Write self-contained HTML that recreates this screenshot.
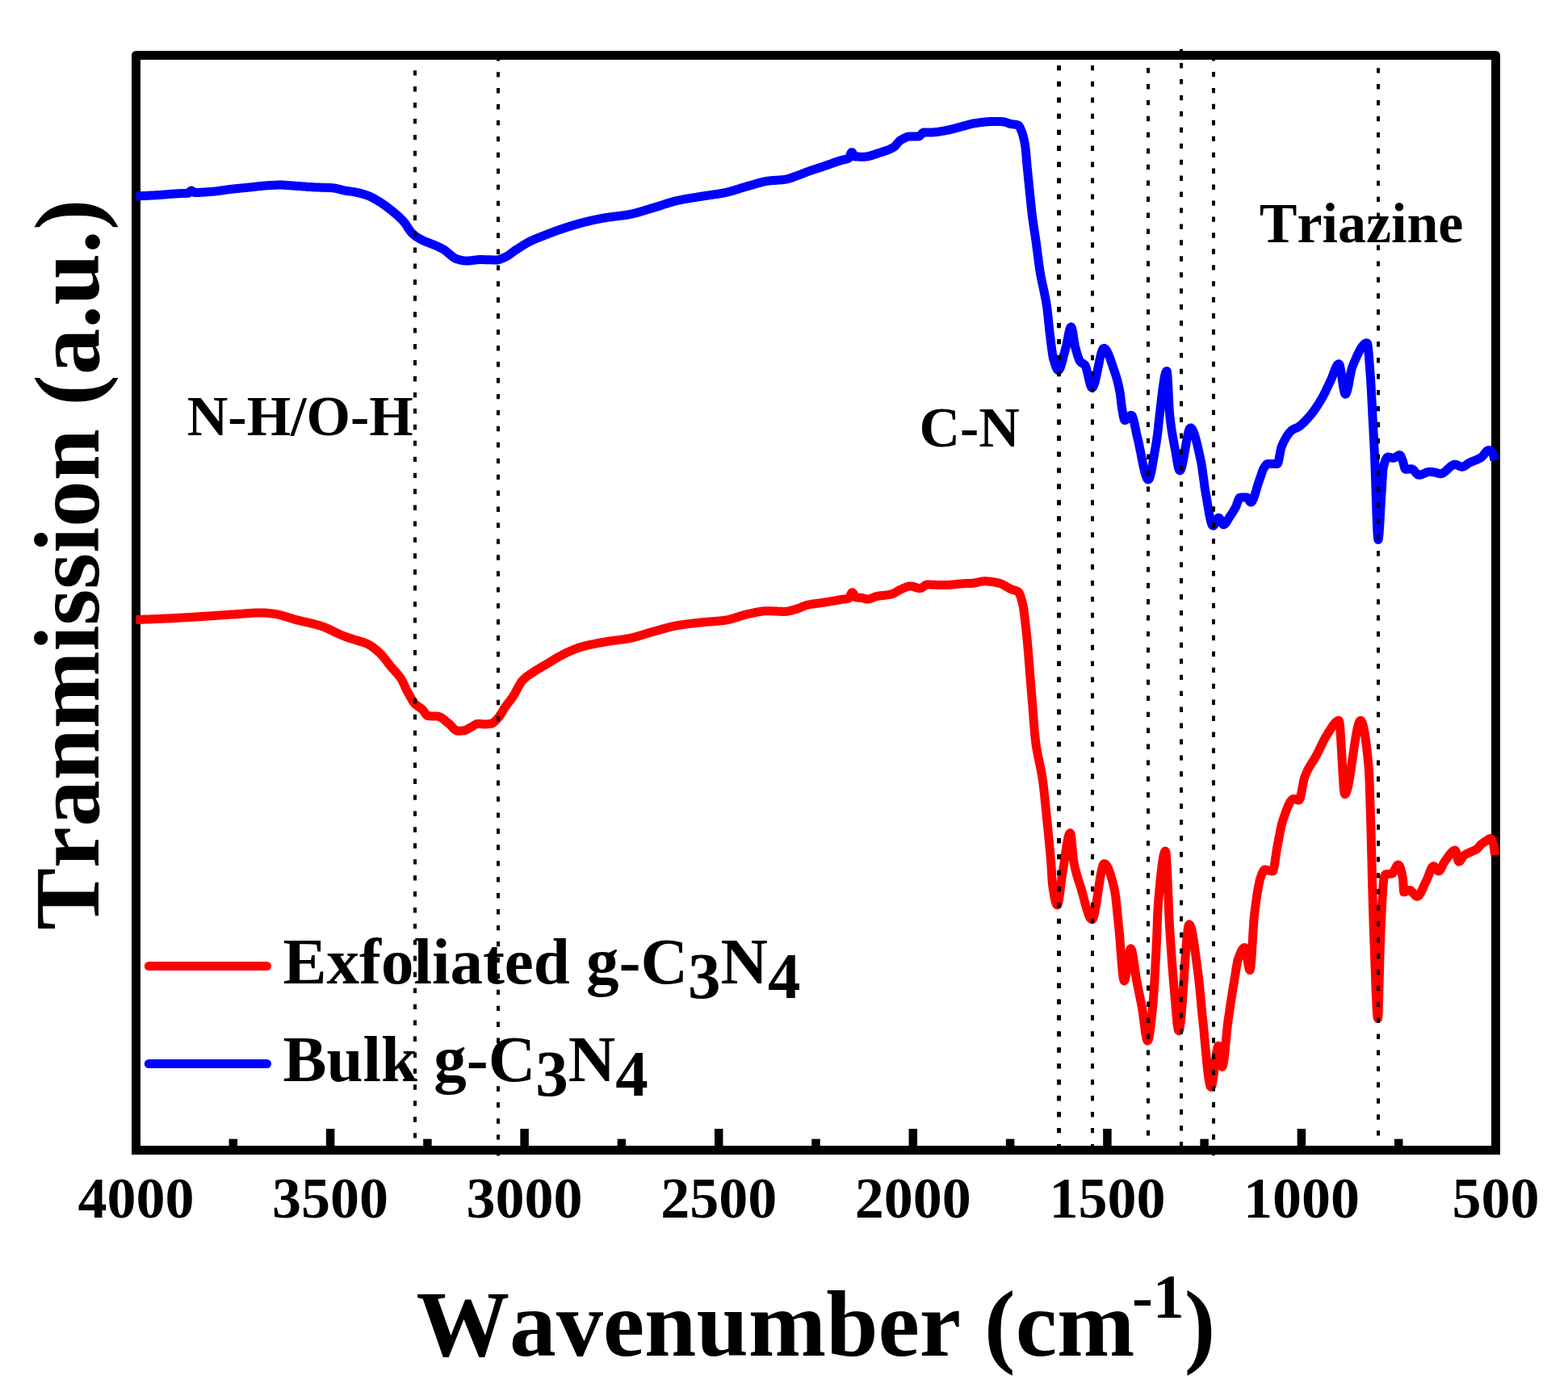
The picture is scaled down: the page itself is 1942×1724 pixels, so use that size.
<!DOCTYPE html>
<html><head><meta charset="utf-8"><style>
html,body{margin:0;padding:0;background:#fff;}
svg{display:block;}
text{font-family:"Liberation Serif","Times New Roman",serif;font-weight:bold;fill:#000;font-kerning:none;}
</style></head><body>
<svg width="1942" height="1724" viewBox="0 0 1942 1724">
<rect x="0" y="0" width="1942" height="1724" fill="#fff"/>
<path d="M168.5,1430 L168.5,68.5 L1852.5,68.5 L1852.5,1430" fill="none" stroke="#000" stroke-width="11" stroke-linejoin="round"/><path d="M163,1424.5 L1858,1424.5" fill="none" stroke="#000" stroke-width="11"/>
<g stroke="#000" stroke-width="10.5"><line x1="288.8" y1="1424" x2="288.8" y2="1410.6"/><line x1="409.1" y1="1424" x2="409.1" y2="1398.0"/><line x1="529.4" y1="1424" x2="529.4" y2="1410.6"/><line x1="649.6" y1="1424" x2="649.6" y2="1398.0"/><line x1="769.9" y1="1424" x2="769.9" y2="1410.6"/><line x1="890.2" y1="1424" x2="890.2" y2="1398.0"/><line x1="1010.5" y1="1424" x2="1010.5" y2="1410.6"/><line x1="1130.8" y1="1424" x2="1130.8" y2="1398.0"/><line x1="1251.1" y1="1424" x2="1251.1" y2="1410.6"/><line x1="1371.4" y1="1424" x2="1371.4" y2="1398.0"/><line x1="1491.6" y1="1424" x2="1491.6" y2="1410.6"/><line x1="1611.9" y1="1424" x2="1611.9" y2="1398.0"/><line x1="1732.2" y1="1424" x2="1732.2" y2="1410.6"/></g>
<g font-size="72" text-anchor="middle"><text x="168.5" y="1508">4000</text><text x="409.1" y="1508">3500</text><text x="649.6" y="1508">3000</text><text x="890.2" y="1508">2500</text><text x="1130.8" y="1508">2000</text><text x="1371.4" y="1508">1500</text><text x="1611.9" y="1508">1000</text><text x="1852.5" y="1508">500</text></g>
<text x="515.4" y="1679.3" font-size="115.7">Wavenumber (cm<tspan font-size="78" dx="-3.5" dy="-47">-1</tspan><tspan dy="47">)</tspan></text>
<text transform="translate(122,1151.7) rotate(-90)" font-size="115.1">Tranmission (a.u.)</text>
<text x="231.8" y="538.7" font-size="70">N-H/O-H</text>
<text x="1138.4" y="552.9" font-size="70">C-N</text>
<text x="1559.7" y="299.8" font-size="70">Triazine</text>
<line x1="184.4" y1="1196.5" x2="330.4" y2="1196.5" stroke="#f00" stroke-width="11.2" stroke-linecap="round"/>
<line x1="184.4" y1="1317.5" x2="330.4" y2="1317.5" stroke="#00f" stroke-width="11.2" stroke-linecap="round"/>
<text x="350.4" y="1218" font-size="81">Exfoliated g-C<tspan dy="17.7">3</tspan><tspan dy="-17.7">N</tspan><tspan dy="17.7">4</tspan></text>
<text x="350.4" y="1339" font-size="81">Bulk g-C<tspan dy="17.7">3</tspan><tspan dy="-17.7">N</tspan><tspan dy="17.7">4</tspan></text>
<g fill="none" stroke-width="11" stroke-linejoin="round" stroke-linecap="butt">
<polyline stroke="#00f" points="168.5,242.9 169.0,242.9 169.5,242.9 170.0,242.9 170.5,242.8 171.0,242.8 171.5,242.8 171.9,242.8 172.4,242.8 172.9,242.7 173.4,242.7 173.9,242.7 174.4,242.7 174.9,242.7 175.4,242.6 175.9,242.6 176.4,242.6 176.9,242.6 177.4,242.6 177.9,242.5 178.3,242.5 178.8,242.5 179.3,242.5 179.8,242.5 180.3,242.4 180.8,242.4 181.3,242.4 181.8,242.4 182.3,242.3 182.8,242.3 183.3,242.3 183.8,242.3 184.3,242.2 184.7,242.2 185.2,242.2 185.7,242.2 186.2,242.1 186.7,242.1 187.2,242.1 187.7,242.1 188.2,242.0 188.7,242.0 189.2,242.0 189.7,242.0 190.2,241.9 190.7,241.9 191.1,241.9 191.6,241.8 192.1,241.8 192.6,241.8 193.1,241.8 193.6,241.7 194.1,241.7 194.6,241.7 195.1,241.6 195.6,241.6 196.1,241.6 196.6,241.5 197.1,241.5 197.6,241.5 198.1,241.4 198.5,241.4 199.0,241.4 199.5,241.3 200.0,241.3 200.5,241.3 201.0,241.2 201.5,241.2 202.0,241.1 202.5,241.1 203.0,241.1 203.5,241.0 204.0,241.0 204.5,240.9 205.0,240.9 205.5,240.8 206.0,240.8 206.5,240.8 206.9,240.7 207.4,240.7 207.9,240.6 208.4,240.6 208.9,240.5 209.4,240.5 209.9,240.5 210.4,240.4 210.9,240.4 211.4,240.3 211.9,240.3 212.4,240.3 212.9,240.2 213.4,240.2 213.9,240.2 214.4,240.1 214.9,240.1 215.3,240.0 215.8,240.0 216.3,240.0 216.8,239.9 217.3,239.9 217.8,239.9 218.3,239.9 218.8,239.8 219.3,239.8 219.8,239.8 220.3,239.8 220.8,239.7 221.3,239.7 221.7,239.7 222.2,239.7 222.7,239.7 223.2,239.7 223.7,239.6 224.2,239.6 224.7,239.6 225.2,239.6 225.7,239.6 226.2,239.6 226.6,239.6 227.1,239.5 227.6,239.5 228.1,239.5 228.6,239.5 229.1,239.5 229.6,239.4 230.1,239.4 230.6,239.4 231.0,239.4 231.5,239.3 232.0,239.3 232.5,239.2 233.0,239.2 233.5,239.1 233.9,238.7 234.4,238.3 234.8,237.8 235.3,237.3 235.7,236.8 236.2,236.4 236.6,236.1 237.1,236.0 237.6,236.1 238.1,236.4 238.6,236.8 239.1,237.3 239.5,237.7 240.0,238.1 240.5,238.4 241.0,238.5 241.5,238.5 242.0,238.5 242.5,238.5 243.0,238.5 243.5,238.5 244.0,238.5 244.5,238.5 245.0,238.4 245.5,238.4 246.0,238.4 246.5,238.4 246.9,238.4 247.4,238.4 247.9,238.3 248.4,238.3 248.9,238.3 249.4,238.3 249.9,238.2 250.4,238.2 250.9,238.2 251.4,238.1 251.9,238.1 252.4,238.1 252.9,238.0 253.4,238.0 253.9,238.0 254.4,237.9 254.9,237.9 255.4,237.9 255.9,237.8 256.4,237.8 256.9,237.8 257.4,237.7 257.9,237.7 258.3,237.6 258.8,237.6 259.3,237.6 259.8,237.5 260.3,237.5 260.8,237.4 261.3,237.4 261.8,237.4 262.3,237.3 262.8,237.3 263.3,237.2 263.8,237.2 264.3,237.2 264.8,237.1 265.3,237.1 265.8,237.0 266.3,237.0 266.8,236.9 267.3,236.9 267.8,236.8 268.3,236.8 268.8,236.7 269.3,236.6 269.7,236.6 270.2,236.5 270.7,236.4 271.2,236.4 271.7,236.3 272.2,236.2 272.7,236.2 273.2,236.1 273.7,236.0 274.2,236.0 274.7,235.9 275.2,235.8 275.7,235.7 276.2,235.7 276.7,235.6 277.2,235.5 277.7,235.4 278.2,235.4 278.7,235.3 279.2,235.2 279.7,235.1 280.2,235.1 280.6,235.0 281.1,234.9 281.6,234.9 282.1,234.8 282.6,234.7 283.1,234.7 283.6,234.6 284.1,234.5 284.6,234.5 285.1,234.4 285.6,234.4 286.1,234.3 286.6,234.2 287.1,234.2 287.6,234.1 288.1,234.1 288.6,234.0 289.1,234.0 289.6,233.9 290.0,233.9 290.5,233.8 291.0,233.8 291.5,233.7 292.0,233.7 292.5,233.6 293.0,233.6 293.5,233.5 294.0,233.5 294.5,233.4 295.0,233.4 295.5,233.3 296.0,233.3 296.5,233.2 297.0,233.2 297.4,233.1 297.9,233.1 298.4,233.1 298.9,233.0 299.4,233.0 299.9,232.9 300.4,232.9 300.9,232.8 301.4,232.8 301.9,232.7 302.4,232.7 302.9,232.6 303.4,232.6 303.9,232.5 304.4,232.5 304.8,232.4 305.3,232.4 305.8,232.3 306.3,232.3 306.8,232.2 307.3,232.2 307.8,232.2 308.3,232.1 308.8,232.0 309.3,232.0 309.8,231.9 310.3,231.9 310.8,231.8 311.3,231.8 311.8,231.7 312.3,231.7 312.8,231.6 313.3,231.5 313.7,231.5 314.2,231.4 314.7,231.4 315.2,231.3 315.7,231.3 316.2,231.2 316.7,231.1 317.2,231.1 317.7,231.0 318.2,231.0 318.7,230.9 319.2,230.8 319.7,230.8 320.2,230.7 320.7,230.7 321.2,230.6 321.7,230.6 322.2,230.5 322.7,230.5 323.2,230.4 323.7,230.4 324.1,230.3 324.6,230.3 325.1,230.2 325.6,230.2 326.1,230.1 326.6,230.1 327.1,230.0 327.6,230.0 328.1,230.0 328.6,229.9 329.1,229.9 329.6,229.9 330.1,229.8 330.6,229.8 331.1,229.8 331.6,229.7 332.1,229.7 332.6,229.7 333.1,229.6 333.6,229.6 334.0,229.6 334.5,229.6 335.0,229.5 335.5,229.5 336.0,229.5 336.5,229.4 337.0,229.4 337.5,229.4 338.0,229.4 338.5,229.3 339.0,229.3 339.5,229.3 340.0,229.3 340.5,229.2 341.0,229.2 341.5,229.2 342.0,229.2 342.4,229.2 342.9,229.2 343.4,229.1 343.9,229.1 344.4,229.1 344.9,229.1 345.4,229.1 345.9,229.1 346.4,229.1 346.9,229.1 347.4,229.1 347.9,229.1 348.4,229.1 348.9,229.1 349.4,229.1 349.9,229.1 350.3,229.2 350.8,229.2 351.3,229.2 351.8,229.2 352.3,229.3 352.8,229.3 353.3,229.3 353.8,229.3 354.3,229.4 354.8,229.4 355.3,229.4 355.8,229.5 356.3,229.5 356.8,229.5 357.2,229.6 357.7,229.6 358.2,229.7 358.7,229.7 359.2,229.7 359.7,229.8 360.2,229.8 360.7,229.9 361.2,229.9 361.7,229.9 362.2,230.0 362.7,230.0 363.2,230.1 363.7,230.1 364.2,230.1 364.6,230.2 365.1,230.2 365.6,230.3 366.1,230.3 366.6,230.3 367.1,230.4 367.6,230.4 368.1,230.4 368.6,230.5 369.1,230.5 369.6,230.5 370.1,230.6 370.6,230.6 371.1,230.6 371.6,230.7 372.1,230.7 372.6,230.7 373.1,230.8 373.5,230.8 374.0,230.8 374.5,230.9 375.0,230.9 375.5,231.0 376.0,231.0 376.5,231.0 377.0,231.1 377.5,231.1 378.0,231.1 378.5,231.2 379.0,231.2 379.5,231.2 380.0,231.3 380.5,231.3 381.0,231.3 381.5,231.4 382.0,231.4 382.5,231.5 383.0,231.5 383.5,231.5 384.0,231.6 384.4,231.6 384.9,231.6 385.4,231.6 385.9,231.7 386.4,231.7 386.9,231.7 387.4,231.8 387.9,231.8 388.4,231.8 388.9,231.8 389.4,231.9 389.9,231.9 390.4,231.9 390.9,231.9 391.4,232.0 391.9,232.0 392.4,232.0 392.9,232.0 393.4,232.1 393.8,232.1 394.3,232.1 394.8,232.1 395.3,232.1 395.8,232.1 396.3,232.2 396.8,232.2 397.3,232.2 397.8,232.2 398.3,232.2 398.8,232.2 399.3,232.2 399.8,232.3 400.3,232.3 400.8,232.3 401.2,232.3 401.7,232.3 402.2,232.3 402.7,232.3 403.2,232.4 403.7,232.4 404.2,232.4 404.7,232.4 405.2,232.4 405.7,232.5 406.2,232.5 406.7,232.5 407.2,232.5 407.7,232.5 408.2,232.6 408.6,232.6 409.1,232.6 409.6,232.6 410.1,232.7 410.6,232.7 411.1,232.7 411.6,232.8 412.1,232.8 412.6,232.8 413.1,232.9 413.6,233.0 414.1,233.0 414.6,233.1 415.1,233.2 415.6,233.3 416.0,233.4 416.5,233.5 417.0,233.6 417.5,233.7 418.0,233.8 418.5,233.9 419.0,234.1 419.5,234.2 420.0,234.3 420.5,234.5 421.0,234.6 421.5,234.7 422.0,234.9 422.5,235.0 423.0,235.1 423.4,235.2 423.9,235.4 424.4,235.5 424.9,235.6 425.4,235.7 425.9,235.8 426.4,235.9 426.9,236.0 427.4,236.1 427.9,236.2 428.4,236.2 428.8,236.3 429.3,236.4 429.8,236.5 430.3,236.5 430.8,236.6 431.3,236.7 431.8,236.7 432.2,236.8 432.7,236.9 433.2,236.9 433.7,237.0 434.2,237.1 434.7,237.1 435.1,237.2 435.6,237.3 436.1,237.3 436.6,237.4 437.1,237.5 437.6,237.6 438.1,237.7 438.5,237.7 439.0,237.8 439.5,237.9 440.0,238.0 440.5,238.1 441.0,238.2 441.5,238.3 442.0,238.4 442.5,238.5 443.0,238.6 443.5,238.7 443.9,238.8 444.4,239.0 444.9,239.1 445.4,239.2 445.9,239.3 446.4,239.4 446.9,239.6 447.4,239.7 447.9,239.8 448.4,240.0 448.9,240.1 449.4,240.3 449.9,240.4 450.4,240.5 450.9,240.7 451.3,240.8 451.8,241.0 452.3,241.2 452.8,241.3 453.3,241.5 453.8,241.7 454.3,241.8 454.8,242.0 455.3,242.2 455.8,242.4 456.3,242.6 456.8,242.8 457.3,243.0 457.8,243.2 458.3,243.4 458.8,243.6 459.3,243.9 459.8,244.1 460.3,244.4 460.8,244.6 461.3,244.9 461.8,245.1 462.2,245.4 462.7,245.7 463.2,245.9 463.7,246.2 464.2,246.5 464.7,246.8 465.2,247.0 465.7,247.3 466.2,247.6 466.7,247.9 467.2,248.2 467.7,248.5 468.2,248.8 468.7,249.1 469.2,249.4 469.7,249.7 470.2,250.0 470.7,250.3 471.2,250.6 471.7,250.9 472.2,251.3 472.7,251.6 473.2,251.9 473.6,252.2 474.1,252.6 474.6,252.9 475.1,253.3 475.6,253.6 476.1,254.0 476.6,254.3 477.1,254.7 477.6,255.0 478.1,255.4 478.6,255.8 479.1,256.2 479.6,256.5 480.1,256.9 480.6,257.3 481.0,257.7 481.5,258.1 482.0,258.4 482.5,258.8 483.0,259.2 483.5,259.6 484.0,260.0 484.5,260.4 485.0,260.8 485.5,261.2 486.0,261.6 486.5,262.0 487.0,262.4 487.5,262.8 488.0,263.2 488.4,263.6 488.9,264.0 489.4,264.4 489.9,264.8 490.4,265.2 490.9,265.7 491.4,266.1 491.9,266.5 492.4,267.0 492.9,267.4 493.4,267.8 493.9,268.3 494.4,268.8 494.9,269.2 495.4,269.7 495.8,270.2 496.3,270.6 496.8,271.1 497.3,271.6 497.8,272.1 498.3,272.6 498.8,273.2 499.3,273.7 499.8,274.3 500.3,274.9 500.8,275.5 501.3,276.1 501.8,276.8 502.3,277.5 502.8,278.2 503.3,279.0 503.8,279.7 504.3,280.5 504.8,281.2 505.2,282.0 505.7,282.8 506.2,283.5 506.7,284.2 507.2,285.0 507.7,285.7 508.2,286.3 508.7,287.0 509.2,287.6 509.7,288.2 510.2,288.7 510.7,289.2 511.2,289.7 511.7,290.1 512.2,290.5 512.7,290.9 513.2,291.3 513.7,291.7 514.1,292.1 514.6,292.4 515.1,292.8 515.6,293.1 516.1,293.5 516.6,293.8 517.1,294.1 517.6,294.4 518.1,294.7 518.6,295.0 519.1,295.3 519.6,295.6 520.0,295.8 520.5,296.1 521.0,296.4 521.5,296.6 522.0,296.9 522.5,297.2 523.0,297.4 523.5,297.6 524.0,297.9 524.5,298.1 525.0,298.3 525.5,298.6 526.0,298.8 526.5,299.0 527.0,299.2 527.5,299.4 528.0,299.6 528.5,299.8 529.0,300.0 529.5,300.2 530.0,300.3 530.5,300.5 530.9,300.7 531.4,300.9 531.9,301.1 532.4,301.3 532.9,301.4 533.4,301.6 533.9,301.8 534.4,302.0 534.9,302.2 535.4,302.4 535.9,302.6 536.4,302.8 536.9,303.0 537.4,303.2 537.9,303.4 538.4,303.6 538.9,303.8 539.4,304.0 539.9,304.3 540.4,304.5 540.9,304.7 541.4,304.9 541.9,305.1 542.4,305.4 542.9,305.6 543.3,305.8 543.8,306.0 544.3,306.3 544.8,306.5 545.3,306.8 545.8,307.0 546.3,307.2 546.8,307.5 547.3,307.8 547.8,308.0 548.3,308.3 548.8,308.6 549.3,308.9 549.8,309.2 550.3,309.5 550.8,309.9 551.3,310.3 551.8,310.6 552.3,311.0 552.8,311.4 553.2,311.8 553.7,312.2 554.2,312.7 554.7,313.1 555.2,313.5 555.7,313.9 556.2,314.4 556.7,314.8 557.2,315.2 557.7,315.6 558.2,316.0 558.7,316.4 559.2,316.8 559.7,317.2 560.2,317.6 560.7,318.0 561.2,318.3 561.6,318.7 562.1,319.0 562.6,319.3 563.1,319.6 563.6,319.9 564.1,320.1 564.6,320.4 565.1,320.6 565.6,320.7 566.1,320.9 566.6,321.0 567.1,321.2 567.6,321.3 568.1,321.5 568.6,321.6 569.0,321.7 569.5,321.8 570.0,322.0 570.5,322.1 571.0,322.2 571.5,322.3 572.0,322.4 572.5,322.5 573.0,322.6 573.5,322.7 574.0,322.8 574.5,322.8 575.0,322.9 575.4,323.0 575.9,323.0 576.4,323.1 576.9,323.1 577.4,323.1 577.9,323.1 578.4,323.1 578.9,323.1 579.4,323.1 579.9,323.0 580.4,323.0 580.9,323.0 581.4,322.9 581.9,322.9 582.3,322.8 582.8,322.8 583.3,322.7 583.8,322.6 584.3,322.6 584.8,322.5 585.3,322.5 585.8,322.4 586.3,322.3 586.8,322.2 587.3,322.2 587.8,322.1 588.3,322.1 588.8,322.0 589.3,321.9 589.8,321.9 590.2,321.8 590.7,321.8 591.2,321.7 591.7,321.7 592.2,321.7 592.7,321.6 593.2,321.6 593.7,321.6 594.2,321.6 594.7,321.6 595.2,321.6 595.7,321.6 596.2,321.6 596.7,321.6 597.2,321.6 597.7,321.6 598.2,321.6 598.7,321.6 599.2,321.6 599.6,321.7 600.1,321.7 600.6,321.7 601.1,321.7 601.6,321.7 602.1,321.7 602.6,321.7 603.1,321.7 603.6,321.7 604.1,321.7 604.6,321.8 605.1,321.8 605.6,321.8 606.1,321.8 606.6,321.8 607.1,321.8 607.6,321.8 608.1,321.8 608.6,321.8 609.1,321.8 609.6,321.8 610.0,321.9 610.5,321.9 611.0,321.9 611.5,321.9 612.0,321.9 612.5,321.9 613.0,321.9 613.5,321.9 614.0,321.9 614.5,321.9 615.0,321.9 615.5,321.9 616.0,321.9 616.5,321.8 617.0,321.7 617.5,321.6 618.0,321.5 618.5,321.4 619.0,321.2 619.5,321.1 620.0,320.9 620.4,320.7 620.9,320.5 621.4,320.3 621.9,320.1 622.4,319.9 622.9,319.7 623.4,319.5 623.9,319.2 624.4,319.0 624.9,318.8 625.4,318.6 625.9,318.4 626.4,318.1 626.9,317.9 627.4,317.6 627.9,317.3 628.4,317.0 628.8,316.7 629.3,316.4 629.8,316.1 630.3,315.7 630.8,315.4 631.3,315.0 631.8,314.7 632.3,314.3 632.8,314.0 633.3,313.6 633.8,313.2 634.3,312.8 634.8,312.5 635.3,312.1 635.7,311.7 636.2,311.4 636.7,311.0 637.2,310.7 637.7,310.3 638.2,310.0 638.7,309.7 639.2,309.4 639.7,309.1 640.2,308.7 640.7,308.4 641.2,308.1 641.7,307.8 642.2,307.5 642.7,307.1 643.2,306.8 643.6,306.5 644.1,306.2 644.6,305.9 645.1,305.6 645.6,305.2 646.1,304.9 646.6,304.6 647.1,304.3 647.6,304.0 648.1,303.7 648.6,303.4 649.1,303.1 649.6,302.8 650.1,302.5 650.6,302.2 651.1,301.9 651.6,301.6 652.0,301.3 652.5,301.0 653.0,300.7 653.5,300.5 654.0,300.2 654.5,299.9 655.0,299.7 655.5,299.4 656.0,299.1 656.5,298.9 657.0,298.7 657.5,298.4 658.0,298.2 658.5,298.0 659.0,297.7 659.5,297.5 660.0,297.3 660.5,297.1 661.0,296.8 661.4,296.6 661.9,296.4 662.4,296.2 662.9,296.0 663.4,295.8 663.9,295.6 664.4,295.4 664.9,295.2 665.4,295.0 665.9,294.8 666.4,294.6 666.9,294.4 667.4,294.2 667.9,294.0 668.4,293.8 668.9,293.6 669.4,293.4 669.8,293.2 670.3,293.0 670.8,292.9 671.3,292.7 671.8,292.5 672.3,292.3 672.8,292.1 673.3,291.9 673.8,291.7 674.3,291.5 674.8,291.3 675.3,291.1 675.8,290.9 676.3,290.7 676.8,290.5 677.3,290.3 677.8,290.1 678.3,289.9 678.8,289.8 679.2,289.6 679.7,289.4 680.2,289.2 680.7,289.0 681.2,288.8 681.7,288.6 682.2,288.4 682.7,288.2 683.2,288.0 683.7,287.9 684.2,287.7 684.7,287.5 685.2,287.3 685.7,287.1 686.2,286.9 686.7,286.7 687.2,286.6 687.6,286.4 688.1,286.2 688.6,286.0 689.1,285.8 689.6,285.7 690.1,285.5 690.6,285.3 691.1,285.1 691.6,285.0 692.1,284.8 692.6,284.6 693.1,284.5 693.6,284.3 694.1,284.1 694.6,283.9 695.1,283.8 695.6,283.6 696.1,283.4 696.6,283.3 697.0,283.1 697.5,282.9 698.0,282.8 698.5,282.6 699.0,282.5 699.5,282.3 700.0,282.1 700.5,282.0 701.0,281.8 701.5,281.6 702.0,281.5 702.5,281.3 703.0,281.2 703.5,281.0 704.0,280.9 704.5,280.7 705.0,280.5 705.5,280.4 706.0,280.2 706.5,280.1 706.9,279.9 707.4,279.8 707.9,279.6 708.4,279.5 708.9,279.3 709.4,279.2 709.9,279.0 710.4,278.9 710.9,278.7 711.4,278.6 711.9,278.5 712.4,278.3 712.9,278.2 713.4,278.0 713.9,277.9 714.4,277.7 714.9,277.6 715.4,277.5 715.8,277.3 716.3,277.2 716.8,277.0 717.3,276.9 717.8,276.8 718.3,276.6 718.8,276.5 719.3,276.3 719.8,276.2 720.3,276.1 720.8,275.9 721.3,275.8 721.8,275.7 722.3,275.6 722.8,275.4 723.3,275.3 723.7,275.2 724.2,275.0 724.7,274.9 725.2,274.8 725.7,274.7 726.2,274.6 726.7,274.4 727.2,274.3 727.7,274.2 728.2,274.1 728.7,274.0 729.2,273.9 729.7,273.7 730.2,273.6 730.7,273.5 731.2,273.4 731.7,273.3 732.2,273.2 732.7,273.1 733.2,272.9 733.7,272.8 734.2,272.7 734.7,272.6 735.2,272.5 735.7,272.4 736.2,272.3 736.7,272.2 737.2,272.1 737.7,272.0 738.2,271.9 738.7,271.8 739.2,271.7 739.7,271.6 740.2,271.5 740.7,271.4 741.2,271.3 741.7,271.2 742.2,271.1 742.7,271.0 743.2,270.9 743.7,270.8 744.2,270.7 744.7,270.6 745.2,270.5 745.7,270.4 746.2,270.3 746.7,270.2 747.2,270.1 747.7,270.0 748.2,270.0 748.7,269.9 749.2,269.8 749.7,269.7 750.2,269.6 750.7,269.5 751.2,269.5 751.7,269.4 752.2,269.3 752.7,269.2 753.2,269.2 753.6,269.1 754.1,269.0 754.6,269.0 755.1,268.9 755.6,268.8 756.1,268.8 756.6,268.7 757.1,268.6 757.6,268.6 758.1,268.5 758.6,268.4 759.1,268.4 759.6,268.3 760.1,268.2 760.6,268.2 761.0,268.1 761.5,268.1 762.0,268.0 762.5,268.0 763.0,267.9 763.5,267.8 764.0,267.8 764.5,267.7 765.0,267.7 765.5,267.6 766.0,267.5 766.5,267.5 767.0,267.4 767.5,267.4 768.0,267.3 768.4,267.2 768.9,267.2 769.4,267.1 769.9,267.0 770.4,267.0 770.9,266.9 771.4,266.8 771.9,266.8 772.4,266.7 772.9,266.6 773.4,266.6 773.9,266.5 774.4,266.4 774.9,266.3 775.4,266.3 775.8,266.2 776.3,266.1 776.8,266.0 777.3,265.9 777.8,265.9 778.3,265.8 778.8,265.7 779.3,265.6 779.8,265.5 780.3,265.4 780.8,265.3 781.3,265.2 781.8,265.1 782.3,265.0 782.8,264.9 783.3,264.8 783.8,264.7 784.2,264.6 784.7,264.4 785.2,264.3 785.7,264.2 786.2,264.1 786.7,263.9 787.2,263.8 787.7,263.7 788.2,263.6 788.7,263.4 789.2,263.3 789.7,263.2 790.2,263.0 790.7,262.9 791.2,262.7 791.7,262.6 792.2,262.5 792.7,262.3 793.2,262.2 793.7,262.0 794.1,261.9 794.6,261.7 795.1,261.6 795.6,261.4 796.1,261.3 796.6,261.1 797.1,261.0 797.6,260.8 798.1,260.7 798.6,260.5 799.1,260.4 799.6,260.2 800.1,260.1 800.6,259.9 801.1,259.8 801.6,259.6 802.1,259.5 802.6,259.3 803.1,259.2 803.6,259.0 804.0,258.9 804.5,258.7 805.0,258.6 805.5,258.4 806.0,258.3 806.5,258.1 807.0,258.0 807.5,257.8 808.0,257.7 808.5,257.5 809.0,257.4 809.5,257.3 810.0,257.1 810.5,257.0 811.0,256.8 811.5,256.7 812.0,256.5 812.5,256.4 812.9,256.2 813.4,256.1 813.9,255.9 814.4,255.8 814.9,255.6 815.4,255.4 815.9,255.3 816.4,255.1 816.9,255.0 817.4,254.8 817.9,254.6 818.4,254.5 818.9,254.3 819.4,254.2 819.9,254.0 820.3,253.8 820.8,253.7 821.3,253.5 821.8,253.3 822.3,253.2 822.8,253.0 823.3,252.9 823.8,252.7 824.3,252.5 824.8,252.4 825.3,252.2 825.8,252.1 826.3,251.9 826.8,251.8 827.3,251.6 827.7,251.5 828.2,251.3 828.7,251.1 829.2,251.0 829.7,250.8 830.2,250.7 830.7,250.6 831.2,250.4 831.7,250.3 832.2,250.1 832.7,250.0 833.2,249.9 833.7,249.7 834.2,249.6 834.7,249.5 835.1,249.3 835.6,249.2 836.1,249.1 836.6,249.0 837.1,248.8 837.6,248.7 838.1,248.6 838.6,248.5 839.1,248.4 839.6,248.3 840.1,248.2 840.6,248.1 841.1,248.0 841.6,247.9 842.1,247.8 842.6,247.7 843.1,247.6 843.5,247.5 844.0,247.4 844.5,247.3 845.0,247.2 845.5,247.1 846.0,247.0 846.5,246.9 847.0,246.8 847.5,246.7 848.0,246.6 848.5,246.5 849.0,246.5 849.5,246.4 850.0,246.3 850.5,246.2 851.0,246.1 851.5,246.0 852.0,245.9 852.5,245.9 853.0,245.8 853.5,245.7 853.9,245.6 854.4,245.5 854.9,245.5 855.4,245.4 855.9,245.3 856.4,245.2 856.9,245.1 857.4,245.1 857.9,245.0 858.4,244.9 858.9,244.8 859.4,244.7 859.9,244.7 860.4,244.6 860.9,244.5 861.4,244.4 861.9,244.3 862.4,244.3 862.9,244.2 863.3,244.1 863.8,244.0 864.3,243.9 864.8,243.9 865.3,243.8 865.8,243.7 866.3,243.6 866.8,243.5 867.3,243.5 867.8,243.4 868.3,243.3 868.8,243.2 869.3,243.1 869.8,243.1 870.3,243.0 870.8,242.9 871.3,242.8 871.8,242.7 872.3,242.7 872.8,242.6 873.2,242.5 873.7,242.4 874.2,242.4 874.7,242.3 875.2,242.2 875.7,242.2 876.2,242.1 876.7,242.0 877.2,241.9 877.7,241.9 878.2,241.8 878.7,241.7 879.2,241.7 879.7,241.6 880.2,241.5 880.7,241.4 881.2,241.4 881.7,241.3 882.2,241.2 882.7,241.2 883.1,241.1 883.6,241.0 884.1,240.9 884.6,240.9 885.1,240.8 885.6,240.7 886.1,240.7 886.6,240.6 887.1,240.5 887.6,240.4 888.1,240.4 888.6,240.3 889.1,240.2 889.6,240.1 890.1,240.0 890.6,240.0 891.1,239.9 891.6,239.8 892.1,239.7 892.6,239.6 893.0,239.5 893.5,239.4 894.0,239.4 894.5,239.3 895.0,239.2 895.5,239.1 896.0,239.0 896.5,238.9 897.0,238.8 897.5,238.7 898.0,238.6 898.5,238.5 899.0,238.4 899.5,238.3 900.0,238.2 900.5,238.1 901.0,237.9 901.5,237.8 901.9,237.7 902.4,237.6 902.9,237.5 903.4,237.3 903.9,237.2 904.4,237.1 904.9,236.9 905.4,236.8 905.9,236.7 906.4,236.5 906.9,236.4 907.4,236.2 907.9,236.1 908.4,235.9 908.9,235.8 909.3,235.6 909.8,235.5 910.3,235.3 910.8,235.2 911.3,235.0 911.8,234.9 912.3,234.7 912.8,234.6 913.3,234.4 913.8,234.3 914.3,234.1 914.8,234.0 915.3,233.8 915.8,233.7 916.3,233.5 916.7,233.3 917.2,233.2 917.7,233.0 918.2,232.9 918.7,232.7 919.2,232.6 919.7,232.4 920.2,232.3 920.7,232.1 921.2,232.0 921.7,231.8 922.2,231.7 922.7,231.5 923.2,231.4 923.7,231.2 924.1,231.1 924.6,230.9 925.1,230.8 925.6,230.6 926.1,230.5 926.6,230.4 927.1,230.2 927.6,230.1 928.1,230.0 928.6,229.8 929.1,229.7 929.6,229.6 930.1,229.4 930.6,229.3 931.1,229.1 931.6,229.0 932.1,228.8 932.6,228.7 933.1,228.6 933.5,228.4 934.0,228.3 934.5,228.1 935.0,228.0 935.5,227.8 936.0,227.7 936.5,227.5 937.0,227.4 937.5,227.2 938.0,227.1 938.5,227.0 939.0,226.8 939.5,226.7 940.0,226.5 940.5,226.4 941.0,226.3 941.5,226.1 942.0,226.0 942.5,225.9 943.0,225.8 943.5,225.6 944.0,225.5 944.5,225.4 945.0,225.3 945.5,225.2 945.9,225.1 946.4,225.0 946.9,224.8 947.4,224.7 947.9,224.7 948.4,224.6 948.9,224.5 949.4,224.4 949.9,224.3 950.4,224.2 950.9,224.2 951.4,224.1 951.9,224.0 952.4,224.0 952.9,223.9 953.4,223.9 953.9,223.8 954.4,223.8 954.9,223.7 955.3,223.7 955.8,223.6 956.3,223.6 956.8,223.6 957.3,223.5 957.8,223.5 958.3,223.5 958.8,223.4 959.3,223.4 959.8,223.4 960.3,223.3 960.8,223.3 961.3,223.3 961.8,223.2 962.2,223.2 962.7,223.2 963.2,223.1 963.7,223.1 964.2,223.1 964.7,223.0 965.2,223.0 965.7,223.0 966.2,222.9 966.7,222.9 967.2,222.8 967.7,222.8 968.2,222.8 968.6,222.7 969.1,222.7 969.6,222.6 970.1,222.5 970.6,222.5 971.1,222.4 971.6,222.4 972.1,222.3 972.6,222.2 973.1,222.1 973.6,222.1 974.1,222.0 974.6,221.8 975.1,221.7 975.6,221.6 976.0,221.5 976.5,221.3 977.0,221.2 977.5,221.1 978.0,220.9 978.5,220.7 979.0,220.6 979.5,220.4 980.0,220.3 980.5,220.1 981.0,219.9 981.5,219.7 982.0,219.6 982.5,219.4 983.0,219.2 983.4,219.0 983.9,218.9 984.4,218.7 984.9,218.5 985.4,218.3 985.9,218.1 986.4,218.0 986.9,217.8 987.4,217.6 987.9,217.5 988.4,217.3 988.8,217.1 989.3,216.9 989.8,216.7 990.3,216.5 990.8,216.4 991.3,216.2 991.8,216.0 992.2,215.8 992.7,215.6 993.2,215.4 993.7,215.2 994.2,215.0 994.7,214.8 995.1,214.6 995.6,214.4 996.1,214.2 996.6,214.0 997.1,213.8 997.6,213.6 998.1,213.4 998.5,213.2 999.0,213.1 999.5,212.9 1000.0,212.7 1000.5,212.5 1001.0,212.3 1001.5,212.2 1002.0,212.0 1002.5,211.8 1003.0,211.7 1003.5,211.5 1003.9,211.3 1004.4,211.1 1004.9,211.0 1005.4,210.8 1005.9,210.6 1006.4,210.5 1006.9,210.3 1007.4,210.2 1007.9,210.0 1008.4,209.8 1008.9,209.7 1009.4,209.5 1009.9,209.3 1010.4,209.2 1010.9,209.0 1011.3,208.9 1011.8,208.7 1012.3,208.5 1012.8,208.4 1013.3,208.2 1013.8,208.1 1014.3,207.9 1014.8,207.7 1015.3,207.6 1015.8,207.4 1016.3,207.3 1016.8,207.1 1017.3,206.9 1017.8,206.8 1018.3,206.6 1018.7,206.5 1019.2,206.3 1019.7,206.1 1020.2,206.0 1020.7,205.8 1021.2,205.6 1021.7,205.5 1022.2,205.3 1022.7,205.1 1023.2,205.0 1023.7,204.8 1024.2,204.6 1024.7,204.4 1025.2,204.3 1025.7,204.1 1026.2,203.9 1026.7,203.7 1027.1,203.6 1027.6,203.4 1028.1,203.2 1028.6,203.0 1029.1,202.8 1029.6,202.7 1030.1,202.5 1030.6,202.3 1031.1,202.1 1031.6,201.9 1032.1,201.8 1032.6,201.6 1033.1,201.4 1033.6,201.2 1034.1,201.1 1034.6,200.9 1035.1,200.7 1035.6,200.5 1036.1,200.4 1036.6,200.2 1037.0,200.0 1037.5,199.9 1038.0,199.7 1038.5,199.5 1039.0,199.4 1039.5,199.2 1040.0,199.1 1040.5,198.9 1041.0,198.8 1041.5,198.6 1042.0,198.5 1042.5,198.3 1043.0,198.2 1043.5,198.1 1044.0,198.0 1044.5,197.9 1045.0,197.8 1045.5,197.7 1046.0,197.6 1046.5,197.5 1047.0,197.4 1047.5,197.3 1048.0,197.2 1048.5,197.0 1049.0,196.9 1049.5,196.7 1050.0,196.5 1050.5,196.3 1051.0,196.0 1051.5,195.5 1052.0,194.5 1052.5,193.3 1053.0,192.0 1053.4,190.7 1053.9,189.6 1054.4,188.8 1054.9,188.5 1055.4,188.7 1055.8,189.2 1056.3,189.9 1056.7,190.8 1057.2,191.7 1057.6,192.5 1058.1,193.3 1058.5,193.8 1059.0,194.0 1059.5,194.0 1060.0,194.0 1060.5,194.1 1060.9,194.1 1061.4,194.1 1061.9,194.1 1062.4,194.1 1062.9,194.1 1063.4,194.1 1063.9,194.1 1064.3,194.2 1064.8,194.2 1065.3,194.2 1065.8,194.2 1066.3,194.2 1066.8,194.2 1067.3,194.2 1067.8,194.2 1068.2,194.2 1068.7,194.2 1069.2,194.2 1069.7,194.2 1070.2,194.2 1070.7,194.2 1071.2,194.2 1071.7,194.1 1072.2,194.1 1072.7,194.0 1073.2,193.9 1073.7,193.9 1074.2,193.8 1074.6,193.7 1075.1,193.6 1075.6,193.5 1076.1,193.4 1076.6,193.3 1077.1,193.1 1077.6,193.0 1078.1,192.9 1078.6,192.7 1079.1,192.6 1079.6,192.4 1080.1,192.3 1080.6,192.1 1081.1,191.9 1081.6,191.8 1082.1,191.6 1082.6,191.5 1083.1,191.3 1083.6,191.1 1084.1,190.9 1084.5,190.8 1085.0,190.6 1085.5,190.4 1086.0,190.3 1086.5,190.1 1087.0,189.9 1087.5,189.8 1088.0,189.6 1088.5,189.5 1089.0,189.3 1089.5,189.1 1090.0,189.0 1090.5,188.8 1091.0,188.7 1091.5,188.5 1092.0,188.4 1092.5,188.2 1093.0,188.1 1093.5,187.9 1093.9,187.8 1094.4,187.6 1094.9,187.5 1095.4,187.3 1095.9,187.1 1096.4,187.0 1096.9,186.8 1097.4,186.6 1097.9,186.4 1098.4,186.2 1098.9,186.1 1099.4,185.9 1099.9,185.7 1100.4,185.5 1100.9,185.3 1101.4,185.1 1101.9,184.8 1102.3,184.6 1102.8,184.4 1103.3,184.2 1103.8,183.9 1104.3,183.7 1104.8,183.4 1105.3,183.1 1105.8,182.9 1106.3,182.6 1106.8,182.3 1107.3,182.0 1107.8,181.6 1108.3,181.1 1108.8,180.7 1109.3,180.1 1109.8,179.6 1110.3,179.0 1110.8,178.4 1111.2,177.8 1111.7,177.2 1112.2,176.6 1112.7,176.1 1113.2,175.5 1113.7,175.0 1114.2,174.5 1114.7,174.1 1115.2,173.7 1115.7,173.4 1116.2,173.1 1116.7,172.8 1117.2,172.6 1117.7,172.3 1118.2,172.0 1118.7,171.8 1119.1,171.5 1119.6,171.2 1120.1,171.0 1120.6,170.8 1121.1,170.5 1121.6,170.3 1122.1,170.1 1122.6,169.9 1123.1,169.7 1123.6,169.6 1124.1,169.4 1124.5,169.3 1125.0,169.2 1125.5,169.1 1126.0,169.0 1126.5,168.9 1127.0,168.9 1127.5,168.9 1128.0,168.9 1128.5,168.9 1129.0,168.9 1129.5,168.9 1130.0,168.9 1130.5,168.9 1131.0,168.9 1131.5,168.9 1132.0,168.9 1132.5,168.9 1132.9,168.9 1133.4,168.9 1133.9,168.9 1134.4,168.9 1134.9,168.9 1135.4,168.9 1135.9,168.9 1136.4,168.9 1136.9,168.9 1137.4,168.9 1137.9,168.9 1138.4,168.8 1138.9,168.5 1139.4,168.1 1139.9,167.6 1140.4,167.1 1140.9,166.5 1141.4,165.9 1141.9,165.3 1142.4,164.8 1142.9,164.4 1143.4,164.1 1143.9,164.0 1144.4,164.0 1144.9,164.0 1145.4,164.0 1145.9,164.0 1146.4,164.0 1146.8,164.0 1147.3,164.0 1147.8,164.0 1148.3,163.9 1148.8,163.9 1149.3,163.9 1149.8,163.9 1150.3,163.9 1150.8,163.9 1151.3,163.9 1151.7,163.9 1152.2,163.9 1152.7,163.9 1153.2,163.9 1153.7,163.9 1154.2,163.9 1154.7,163.9 1155.2,163.9 1155.7,163.9 1156.2,163.8 1156.7,163.8 1157.2,163.8 1157.7,163.7 1158.2,163.7 1158.6,163.6 1159.1,163.6 1159.6,163.5 1160.1,163.5 1160.6,163.4 1161.1,163.3 1161.6,163.3 1162.1,163.2 1162.6,163.1 1163.1,163.0 1163.6,163.0 1164.1,162.9 1164.6,162.8 1165.1,162.7 1165.6,162.6 1166.1,162.6 1166.5,162.5 1167.0,162.4 1167.5,162.3 1168.0,162.2 1168.5,162.1 1169.0,162.1 1169.5,162.0 1170.0,161.9 1170.5,161.8 1171.0,161.7 1171.5,161.6 1172.0,161.5 1172.5,161.4 1173.0,161.3 1173.5,161.2 1174.0,161.1 1174.5,161.0 1175.0,160.9 1175.5,160.8 1176.0,160.7 1176.4,160.6 1176.9,160.5 1177.4,160.4 1177.9,160.2 1178.4,160.1 1178.9,160.0 1179.4,159.9 1179.9,159.7 1180.4,159.6 1180.9,159.5 1181.4,159.3 1181.9,159.2 1182.4,159.1 1182.9,158.9 1183.4,158.8 1183.9,158.7 1184.4,158.5 1184.9,158.4 1185.4,158.3 1185.9,158.1 1186.4,158.0 1186.9,157.9 1187.3,157.7 1187.8,157.6 1188.3,157.5 1188.8,157.3 1189.3,157.2 1189.8,157.1 1190.3,156.9 1190.8,156.8 1191.3,156.7 1191.8,156.5 1192.3,156.4 1192.8,156.3 1193.3,156.2 1193.8,156.0 1194.3,155.9 1194.8,155.8 1195.3,155.6 1195.8,155.5 1196.3,155.4 1196.7,155.2 1197.2,155.1 1197.7,154.9 1198.2,154.8 1198.7,154.7 1199.2,154.5 1199.7,154.4 1200.2,154.2 1200.7,154.1 1201.2,154.0 1201.7,153.8 1202.2,153.7 1202.7,153.6 1203.2,153.5 1203.7,153.4 1204.1,153.2 1204.6,153.1 1205.1,153.0 1205.6,152.9 1206.1,152.8 1206.6,152.8 1207.1,152.7 1207.6,152.6 1208.1,152.5 1208.6,152.5 1209.1,152.4 1209.6,152.3 1210.1,152.3 1210.6,152.2 1211.1,152.1 1211.6,152.1 1212.1,152.0 1212.6,151.9 1213.1,151.9 1213.5,151.8 1214.0,151.7 1214.5,151.7 1215.0,151.6 1215.5,151.5 1216.0,151.5 1216.5,151.4 1217.0,151.4 1217.5,151.3 1218.0,151.2 1218.5,151.2 1219.0,151.1 1219.5,151.1 1220.0,151.0 1220.5,151.0 1221.0,150.9 1221.5,150.9 1222.0,150.8 1222.5,150.8 1223.0,150.8 1223.5,150.7 1224.0,150.7 1224.5,150.7 1225.0,150.6 1225.5,150.6 1225.9,150.6 1226.4,150.5 1226.9,150.5 1227.4,150.5 1227.9,150.5 1228.4,150.4 1228.9,150.4 1229.4,150.4 1229.9,150.4 1230.4,150.4 1230.9,150.4 1231.4,150.4 1231.9,150.4 1232.4,150.4 1232.9,150.4 1233.4,150.4 1233.9,150.4 1234.3,150.4 1234.8,150.4 1235.3,150.4 1235.8,150.5 1236.3,150.5 1236.8,150.5 1237.3,150.5 1237.8,150.5 1238.3,150.5 1238.8,150.6 1239.2,150.6 1239.7,150.6 1240.2,150.6 1240.7,150.7 1241.2,150.7 1241.7,150.7 1242.2,150.7 1242.7,150.8 1243.2,150.9 1243.7,151.0 1244.2,151.1 1244.7,151.2 1245.2,151.3 1245.7,151.5 1246.2,151.7 1246.7,151.8 1247.1,152.0 1247.6,152.2 1248.1,152.3 1248.6,152.5 1249.1,152.7 1249.6,152.8 1250.1,153.0 1250.6,153.1 1251.1,153.3 1251.6,153.4 1252.1,153.5 1252.6,153.6 1253.1,153.7 1253.6,153.8 1254.1,153.8 1254.6,153.9 1255.1,153.9 1255.6,154.0 1256.1,154.0 1256.5,154.1 1257.0,154.2 1257.5,154.2 1258.0,154.3 1258.5,154.4 1259.0,154.5 1259.5,154.6 1260.0,154.7 1260.5,154.8 1261.0,155.0 1261.5,155.3 1262.0,155.8 1262.5,156.6 1263.0,157.5 1263.5,158.5 1264.0,159.6 1264.5,160.8 1265.0,162.0 1265.5,163.3 1266.0,164.6 1266.5,166.2 1267.0,167.8 1267.5,169.7 1268.0,171.8 1268.5,174.0 1269.0,176.5 1269.5,179.3 1270.0,182.8 1270.5,187.3 1271.0,192.6 1271.4,198.2 1271.9,203.8 1272.4,209.0 1272.9,214.0 1273.4,219.0 1273.9,223.9 1274.4,228.8 1274.9,233.7 1275.4,238.6 1275.8,242.9 1276.3,247.3 1276.7,251.7 1277.1,256.0 1277.6,260.0 1278.0,263.8 1278.5,267.8 1279.0,271.6 1279.5,275.1 1280.0,278.6 1280.5,281.9 1281.0,285.2 1281.5,288.5 1282.0,291.8 1282.5,295.2 1283.0,298.7 1283.5,302.1 1283.9,305.6 1284.4,309.2 1284.9,312.8 1285.3,316.4 1285.8,320.0 1286.2,323.5 1286.7,327.0 1287.2,330.3 1287.6,333.4 1288.1,336.4 1288.6,339.3 1289.1,342.1 1289.6,344.7 1290.1,347.1 1290.6,349.5 1291.1,351.8 1291.6,354.0 1292.1,356.2 1292.5,358.5 1293.0,360.7 1293.5,363.0 1294.0,365.4 1294.5,367.9 1295.0,370.5 1295.5,373.3 1296.0,376.3 1296.5,379.5 1297.0,382.9 1297.4,386.8 1297.9,391.0 1298.4,395.5 1298.8,400.1 1299.3,404.6 1299.8,409.1 1300.2,413.3 1300.7,417.1 1301.2,420.7 1301.6,424.3 1302.1,428.0 1302.5,431.5 1303.0,434.9 1303.4,438.0 1303.9,440.8 1304.3,443.1 1304.8,445.0 1305.3,446.7 1305.8,448.4 1306.3,450.1 1306.8,451.6 1307.3,453.0 1307.8,454.4 1308.3,455.5 1308.8,456.6 1309.3,457.4 1309.8,458.0 1310.3,458.4 1310.8,458.5 1311.3,458.4 1311.8,458.0 1312.2,457.3 1312.7,456.4 1313.2,455.4 1313.7,454.1 1314.2,452.7 1314.6,451.2 1315.1,449.5 1315.6,447.8 1316.1,445.9 1316.5,444.0 1317.0,442.1 1317.5,440.2 1318.0,438.2 1318.5,436.3 1318.9,434.5 1319.4,432.7 1319.9,431.0 1320.4,429.2 1320.9,427.1 1321.3,424.9 1321.8,422.5 1322.3,420.0 1322.8,417.5 1323.2,415.1 1323.7,412.8 1324.2,410.6 1324.7,408.7 1325.2,407.2 1325.6,405.9 1326.1,405.2 1326.6,404.9 1327.1,405.4 1327.6,406.7 1328.1,408.6 1328.6,411.1 1329.1,414.0 1329.5,417.1 1330.0,420.3 1330.5,423.4 1331.0,426.4 1331.5,428.9 1332.0,431.0 1332.5,432.8 1333.0,434.6 1333.5,436.4 1334.0,438.1 1334.5,439.8 1335.0,441.3 1335.5,442.8 1336.0,444.2 1336.5,445.4 1337.0,446.5 1337.5,447.3 1338.0,448.0 1338.5,448.5 1338.9,448.9 1339.4,449.2 1339.9,449.5 1340.3,449.8 1340.8,450.0 1341.3,450.3 1341.7,450.5 1342.2,450.8 1342.7,451.1 1343.1,451.5 1343.6,452.0 1344.1,452.7 1344.6,453.8 1345.1,455.2 1345.6,456.9 1346.1,458.8 1346.6,460.8 1347.1,462.9 1347.6,465.1 1348.1,467.3 1348.6,469.5 1349.1,471.6 1349.6,473.6 1350.1,475.4 1350.6,477.0 1351.1,478.3 1351.6,479.3 1352.1,480.0 1352.6,480.2 1353.1,480.0 1353.6,479.6 1354.1,478.8 1354.5,477.8 1355.0,476.6 1355.5,475.1 1356.0,473.5 1356.5,471.6 1357.0,469.6 1357.5,467.5 1358.0,465.3 1358.4,463.0 1358.9,460.6 1359.4,458.2 1359.9,455.7 1360.4,453.3 1360.9,450.9 1361.4,448.5 1361.8,446.2 1362.3,444.0 1362.8,441.9 1363.3,439.9 1363.8,438.0 1364.3,436.4 1364.8,434.9 1365.3,433.7 1365.7,432.7 1366.2,431.9 1366.7,431.5 1367.2,431.3 1367.7,431.4 1368.2,431.6 1368.7,431.9 1369.2,432.3 1369.7,432.9 1370.2,433.6 1370.6,434.3 1371.1,435.2 1371.6,436.1 1372.1,437.1 1372.6,438.2 1373.1,439.4 1373.6,440.6 1374.1,441.9 1374.6,443.2 1375.1,444.6 1375.6,446.0 1376.1,447.4 1376.6,448.8 1377.0,450.3 1377.5,451.8 1378.0,453.2 1378.5,454.7 1379.0,456.2 1379.5,457.6 1380.0,459.0 1380.5,460.4 1381.0,461.9 1381.5,463.4 1382.0,465.0 1382.5,466.6 1383.0,468.3 1383.5,470.1 1384.0,472.0 1384.5,473.9 1385.0,476.0 1385.5,478.2 1386.0,480.6 1386.5,483.1 1387.0,485.7 1387.5,489.0 1388.0,493.1 1388.5,497.6 1389.0,501.8 1389.5,505.2 1390.0,508.1 1390.5,511.1 1391.0,514.0 1391.5,516.6 1392.0,518.6 1392.5,520.0 1393.0,520.5 1393.5,520.4 1394.0,520.3 1394.5,520.0 1395.0,519.6 1395.4,519.2 1395.9,518.7 1396.4,518.2 1396.9,517.7 1397.4,517.1 1397.9,516.6 1398.4,516.1 1398.9,515.6 1399.3,515.2 1399.8,514.8 1400.3,514.5 1400.8,514.4 1401.3,514.3 1401.8,514.5 1402.3,515.2 1402.8,516.2 1403.2,517.6 1403.7,519.3 1404.2,521.2 1404.7,523.3 1405.2,525.5 1405.7,527.9 1406.2,530.3 1406.7,532.7 1407.1,535.0 1407.6,537.3 1408.1,539.5 1408.6,541.4 1409.1,543.3 1409.6,545.3 1410.1,547.5 1410.5,549.7 1411.0,552.0 1411.5,554.4 1412.0,556.8 1412.5,559.3 1413.0,561.8 1413.5,564.3 1413.9,566.8 1414.4,569.3 1414.9,571.7 1415.4,574.1 1415.9,576.5 1416.4,578.7 1416.9,580.8 1417.3,582.9 1417.8,584.8 1418.3,586.6 1418.8,588.2 1419.3,589.6 1419.8,590.9 1420.3,592.0 1420.7,592.8 1421.2,593.5 1421.7,593.9 1422.2,594.0 1422.7,593.8 1423.2,593.2 1423.7,592.2 1424.1,590.9 1424.6,589.3 1425.1,587.4 1425.6,585.2 1426.1,582.9 1426.6,580.4 1427.0,577.7 1427.5,575.0 1428.0,572.1 1428.5,569.2 1429.0,566.3 1429.5,563.5 1429.9,560.6 1430.4,557.9 1430.9,555.3 1431.4,552.5 1431.9,549.5 1432.4,546.2 1432.9,542.6 1433.4,538.9 1433.9,534.9 1434.4,530.8 1434.8,526.6 1435.3,522.2 1435.8,517.8 1436.3,513.4 1436.8,509.0 1437.3,504.5 1437.8,500.2 1438.3,495.9 1438.8,491.7 1439.3,487.6 1439.8,483.7 1440.3,480.0 1440.8,476.5 1441.3,473.2 1441.7,470.2 1442.2,467.6 1442.7,465.2 1443.2,463.2 1443.7,461.6 1444.2,460.5 1444.7,459.7 1445.2,459.5 1445.7,461.9 1446.2,468.3 1446.7,477.3 1447.2,487.7 1447.7,498.0 1448.2,507.1 1448.7,513.6 1449.2,518.1 1449.7,522.3 1450.2,526.2 1450.7,529.8 1451.2,533.2 1451.7,536.3 1452.2,539.3 1452.7,542.1 1453.2,544.8 1453.7,547.4 1454.2,550.0 1454.7,552.7 1455.2,555.3 1455.7,558.1 1456.2,561.1 1456.7,564.1 1457.2,567.2 1457.7,570.2 1458.2,573.1 1458.7,575.8 1459.2,578.1 1459.7,580.1 1460.2,581.6 1460.7,582.6 1461.2,582.9 1461.7,582.7 1462.2,582.1 1462.7,581.1 1463.2,579.8 1463.7,578.1 1464.2,576.2 1464.6,574.1 1465.1,571.7 1465.6,569.2 1466.1,566.5 1466.6,563.7 1467.1,560.8 1467.6,557.9 1468.1,554.9 1468.6,552.0 1469.1,549.1 1469.6,546.3 1470.1,543.6 1470.6,541.1 1471.1,538.7 1471.5,536.6 1472.0,534.7 1472.5,533.0 1473.0,531.7 1473.5,530.7 1474.0,530.1 1474.5,529.9 1475.0,530.0 1475.5,530.3 1476.0,530.8 1476.5,531.4 1477.0,532.2 1477.5,533.2 1478.0,534.3 1478.5,535.6 1479.0,536.9 1479.5,538.4 1480.0,540.0 1480.5,541.8 1481.0,543.6 1481.5,545.5 1482.0,547.4 1482.5,549.5 1483.0,551.6 1483.5,553.7 1484.0,555.9 1484.5,558.1 1485.0,560.3 1485.5,562.6 1486.0,564.8 1486.5,567.1 1487.0,569.3 1487.5,571.7 1488.0,574.4 1488.5,577.4 1488.9,580.6 1489.4,584.0 1489.9,587.6 1490.4,591.2 1490.9,594.8 1491.4,598.4 1491.8,601.9 1492.3,605.2 1492.8,608.2 1493.3,611.0 1493.8,613.8 1494.3,616.6 1494.8,619.6 1495.3,622.6 1495.8,625.6 1496.3,628.6 1496.8,631.6 1497.3,634.4 1497.8,637.2 1498.3,639.8 1498.8,642.2 1499.3,644.4 1499.8,646.3 1500.3,648.0 1500.8,649.3 1501.3,650.4 1501.8,651.0 1502.3,651.2 1502.8,651.1 1503.3,650.7 1503.8,650.0 1504.3,649.2 1504.8,648.3 1505.3,647.3 1505.8,646.2 1506.3,645.2 1506.8,644.2 1507.3,643.3 1507.8,642.5 1508.3,641.8 1508.8,641.4 1509.3,641.3 1509.8,641.4 1510.3,641.8 1510.7,642.4 1511.2,643.2 1511.7,644.1 1512.2,645.1 1512.6,646.0 1513.1,647.0 1513.6,647.9 1514.1,648.7 1514.5,649.3 1515.0,649.7 1515.5,649.8 1516.0,649.7 1516.5,649.5 1517.0,649.1 1517.5,648.6 1518.0,648.1 1518.5,647.4 1519.0,646.6 1519.5,645.8 1520.0,645.0 1520.5,644.1 1521.0,643.3 1521.5,642.4 1522.0,641.6 1522.5,640.8 1523.0,640.0 1523.5,639.3 1524.0,638.6 1524.5,637.9 1525.0,637.1 1525.5,636.4 1526.0,635.7 1526.5,634.9 1526.9,634.1 1527.4,633.3 1527.9,632.5 1528.4,631.7 1528.9,630.9 1529.4,630.0 1529.9,629.1 1530.4,628.2 1530.9,627.2 1531.4,625.9 1531.8,624.6 1532.3,623.1 1532.8,621.7 1533.3,620.3 1533.8,619.0 1534.3,617.9 1534.7,617.0 1535.2,616.4 1535.7,616.2 1536.2,616.2 1536.7,616.2 1537.2,616.1 1537.7,616.1 1538.1,616.1 1538.6,616.1 1539.1,616.1 1539.6,616.1 1540.1,616.0 1540.6,616.0 1541.1,616.0 1541.6,616.0 1542.0,616.0 1542.5,616.0 1543.0,616.0 1543.5,616.0 1544.0,616.0 1544.5,616.1 1544.9,616.5 1545.4,617.1 1545.9,617.8 1546.4,618.6 1546.8,619.4 1547.3,620.2 1547.8,620.9 1548.3,621.5 1548.7,621.9 1549.2,622.0 1549.7,621.9 1550.2,621.5 1550.7,621.0 1551.2,620.2 1551.7,619.3 1552.2,618.2 1552.7,617.0 1553.2,615.6 1553.7,614.2 1554.2,612.6 1554.7,611.0 1555.2,609.4 1555.7,607.7 1556.2,605.9 1556.7,604.2 1557.2,602.5 1557.7,600.8 1558.2,599.2 1558.7,597.6 1559.2,596.2 1559.7,594.8 1560.2,593.5 1560.7,592.1 1561.2,590.6 1561.7,589.1 1562.2,587.6 1562.7,586.2 1563.1,584.8 1563.6,583.4 1564.1,582.2 1564.6,581.0 1565.1,580.0 1565.6,579.2 1566.1,578.5 1566.6,577.7 1567.1,577.0 1567.6,576.3 1568.0,575.7 1568.5,575.2 1569.0,574.8 1569.5,574.6 1570.0,574.5 1570.5,574.5 1571.0,574.5 1571.5,574.5 1572.0,574.5 1572.5,574.5 1573.0,574.5 1573.5,574.5 1574.0,574.5 1574.5,574.5 1575.0,574.5 1575.5,574.5 1576.0,574.5 1576.5,574.5 1577.0,574.5 1577.5,574.5 1578.0,574.5 1578.5,574.5 1579.0,574.5 1579.5,574.5 1580.0,574.5 1580.5,574.5 1581.0,574.5 1581.5,574.5 1582.0,574.5 1582.5,574.1 1583.0,573.0 1583.4,571.3 1583.9,569.1 1584.4,566.6 1584.9,564.0 1585.4,561.3 1585.9,558.7 1586.3,556.4 1586.8,554.4 1587.3,553.0 1587.8,551.9 1588.3,550.7 1588.8,549.7 1589.2,548.6 1589.7,547.6 1590.2,546.6 1590.7,545.6 1591.2,544.7 1591.7,543.8 1592.2,542.9 1592.6,542.1 1593.1,541.3 1593.6,540.5 1594.1,539.7 1594.6,539.0 1595.1,538.3 1595.6,537.6 1596.0,537.0 1596.5,536.4 1597.0,535.8 1597.5,535.2 1598.0,534.7 1598.5,534.2 1599.0,533.8 1599.4,533.3 1599.9,532.9 1600.4,532.5 1600.9,532.2 1601.4,531.9 1601.9,531.6 1602.4,531.4 1602.8,531.1 1603.3,530.9 1603.8,530.7 1604.3,530.5 1604.8,530.4 1605.3,530.2 1605.8,530.0 1606.2,529.8 1606.7,529.5 1607.2,529.3 1607.7,529.0 1608.2,528.7 1608.7,528.4 1609.2,528.0 1609.6,527.7 1610.1,527.3 1610.6,527.0 1611.1,526.6 1611.6,526.2 1612.1,525.7 1612.6,525.3 1613.0,524.9 1613.5,524.4 1614.0,524.0 1614.5,523.5 1615.0,523.0 1615.5,522.5 1616.0,522.0 1616.4,521.5 1616.9,521.0 1617.4,520.5 1617.9,520.0 1618.4,519.4 1618.9,518.9 1619.4,518.4 1619.8,517.8 1620.3,517.3 1620.8,516.7 1621.3,516.2 1621.8,515.6 1622.3,515.1 1622.8,514.5 1623.3,513.9 1623.8,513.3 1624.3,512.6 1624.8,512.0 1625.3,511.4 1625.8,510.7 1626.3,510.1 1626.8,509.4 1627.3,508.7 1627.8,508.0 1628.3,507.3 1628.8,506.6 1629.2,505.9 1629.7,505.2 1630.2,504.4 1630.7,503.7 1631.2,502.9 1631.7,502.2 1632.2,501.4 1632.7,500.6 1633.2,499.9 1633.7,499.1 1634.2,498.3 1634.7,497.5 1635.2,496.6 1635.7,495.8 1636.2,495.0 1636.7,494.2 1637.2,493.3 1637.7,492.4 1638.2,491.5 1638.7,490.6 1639.2,489.6 1639.7,488.6 1640.2,487.7 1640.7,486.7 1641.2,485.7 1641.7,484.6 1642.1,483.6 1642.6,482.6 1643.1,481.6 1643.6,480.5 1644.1,479.5 1644.6,478.4 1645.1,477.4 1645.6,476.4 1646.1,475.3 1646.6,474.3 1647.1,473.3 1647.6,472.3 1648.1,471.3 1648.6,470.2 1649.0,469.0 1649.5,467.8 1650.0,466.6 1650.5,465.3 1651.0,464.0 1651.5,462.7 1651.9,461.4 1652.4,460.1 1652.9,458.8 1653.4,457.6 1653.9,456.5 1654.3,455.4 1654.8,454.4 1655.3,453.5 1655.8,452.7 1656.3,452.0 1656.8,451.5 1657.2,451.0 1657.7,450.8 1658.2,450.7 1658.7,451.1 1659.2,452.1 1659.6,453.8 1660.1,456.0 1660.6,458.5 1661.1,461.4 1661.5,464.5 1662.0,467.8 1662.5,471.1 1663.0,474.4 1663.4,477.5 1663.9,480.4 1664.4,482.9 1664.9,485.1 1665.3,486.8 1665.8,487.8 1666.3,488.2 1666.8,488.0 1667.3,487.2 1667.8,486.1 1668.3,484.7 1668.8,482.9 1669.3,480.8 1669.8,478.5 1670.3,476.1 1670.8,473.6 1671.2,470.9 1671.7,468.3 1672.2,465.7 1672.7,463.2 1673.2,460.8 1673.7,458.6 1674.2,456.7 1674.7,455.0 1675.2,453.6 1675.7,452.4 1676.2,451.2 1676.7,450.0 1677.2,448.8 1677.7,447.7 1678.2,446.5 1678.7,445.3 1679.2,444.2 1679.7,443.1 1680.2,441.9 1680.7,440.8 1681.2,439.8 1681.7,438.7 1682.2,437.7 1682.7,436.7 1683.2,435.7 1683.7,434.7 1684.2,433.8 1684.6,432.9 1685.1,432.1 1685.6,431.2 1686.1,430.5 1686.6,429.7 1687.1,429.0 1687.6,428.4 1688.1,427.8 1688.6,427.2 1689.1,426.7 1689.6,426.2 1690.1,425.8 1690.6,425.5 1691.1,425.2 1691.6,425.0 1692.1,424.8 1692.6,424.7 1693.1,424.7 1693.6,425.5 1694.0,427.7 1694.5,431.2 1694.9,435.7 1695.4,440.9 1695.8,446.7 1696.3,452.8 1696.7,458.9 1697.2,465.0 1697.7,471.5 1698.1,479.1 1698.6,487.4 1699.0,496.2 1699.5,505.0 1699.9,513.7 1700.4,523.1 1700.9,532.5 1701.4,542.1 1701.9,552.1 1702.4,562.4 1702.9,574.4 1703.4,588.6 1703.9,604.0 1704.4,619.7 1704.9,634.7 1705.4,648.0 1705.9,658.8 1706.4,665.9 1706.9,668.5 1707.4,667.2 1707.8,663.5 1708.3,657.9 1708.7,650.9 1709.2,643.0 1709.6,634.6 1710.1,626.2 1710.5,618.2 1711.0,611.2 1711.5,604.0 1711.9,596.0 1712.4,588.4 1712.8,582.3 1713.3,578.7 1713.8,576.7 1714.3,574.9 1714.8,573.3 1715.2,571.8 1715.7,570.4 1716.2,569.3 1716.7,568.3 1717.2,567.5 1717.6,566.8 1718.1,566.4 1718.6,566.1 1719.1,566.0 1719.6,566.0 1720.1,566.1 1720.6,566.2 1721.1,566.3 1721.6,566.4 1722.1,566.6 1722.6,566.7 1723.1,566.9 1723.6,567.0 1724.1,567.1 1724.6,567.2 1725.1,567.3 1725.6,567.3 1726.1,567.3 1726.6,567.2 1727.0,567.0 1727.5,566.8 1728.0,566.5 1728.5,566.2 1728.9,565.9 1729.4,565.6 1729.9,565.3 1730.4,565.0 1730.8,564.7 1731.3,564.4 1731.8,564.1 1732.3,563.9 1732.7,563.7 1733.2,563.6 1733.7,563.6 1734.2,563.8 1734.6,564.4 1735.1,565.3 1735.6,566.4 1736.1,567.6 1736.5,568.8 1737.0,570.0 1737.5,571.3 1738.0,573.0 1738.4,574.9 1738.9,576.8 1739.4,578.5 1739.8,580.0 1740.3,580.9 1740.8,581.3 1741.3,581.3 1741.8,581.3 1742.2,581.2 1742.7,581.2 1743.2,581.1 1743.7,581.1 1744.2,581.0 1744.6,581.0 1745.1,580.9 1745.6,580.9 1746.1,580.8 1746.6,580.8 1747.0,580.7 1747.5,580.7 1748.0,580.7 1748.5,580.8 1749.0,580.9 1749.5,581.2 1750.0,581.6 1750.5,582.0 1751.0,582.5 1751.5,583.0 1752.0,583.6 1752.5,584.2 1752.9,584.8 1753.4,585.4 1753.9,586.0 1754.4,586.5 1754.9,587.0 1755.4,587.4 1755.9,587.8 1756.4,588.1 1756.9,588.2 1757.4,588.3 1757.9,588.3 1758.4,588.2 1758.9,588.2 1759.4,588.0 1759.9,587.9 1760.4,587.8 1760.9,587.6 1761.4,587.4 1761.9,587.2 1762.4,587.0 1762.9,586.8 1763.4,586.5 1763.9,586.3 1764.4,586.1 1764.9,585.8 1765.4,585.6 1765.9,585.4 1766.4,585.2 1766.9,585.0 1767.4,584.8 1767.9,584.7 1768.4,584.6 1768.9,584.4 1769.4,584.4 1769.9,584.3 1770.4,584.3 1770.9,584.3 1771.4,584.3 1771.9,584.4 1772.4,584.4 1772.9,584.4 1773.4,584.5 1773.9,584.6 1774.4,584.6 1774.9,584.7 1775.4,584.8 1775.9,584.9 1776.4,584.9 1776.9,585.0 1777.4,585.1 1777.9,585.2 1778.3,585.3 1778.8,585.4 1779.3,585.6 1779.8,585.8 1780.3,585.9 1780.7,586.1 1781.2,586.2 1781.7,586.3 1782.2,586.5 1782.7,586.6 1783.1,586.6 1783.6,586.7 1784.1,586.7 1784.6,586.7 1785.1,586.6 1785.6,586.5 1786.1,586.3 1786.6,586.1 1787.1,585.8 1787.6,585.6 1788.1,585.2 1788.6,584.9 1789.1,584.5 1789.6,584.1 1790.1,583.7 1790.6,583.3 1791.1,582.8 1791.6,582.4 1792.1,581.9 1792.6,581.4 1793.1,581.0 1793.6,580.5 1794.1,580.0 1794.6,579.5 1795.1,579.1 1795.6,578.6 1796.1,578.2 1796.6,577.8 1797.1,577.4 1797.6,577.0 1798.1,576.7 1798.6,576.3 1799.1,576.1 1799.6,575.8 1800.1,575.6 1800.6,575.4 1801.1,575.3 1801.6,575.2 1802.1,575.2 1802.6,575.2 1803.1,575.3 1803.5,575.4 1804.0,575.6 1804.5,575.8 1805.0,576.0 1805.4,576.2 1805.9,576.5 1806.4,576.7 1806.9,576.9 1807.4,577.2 1807.8,577.4 1808.3,577.6 1808.8,577.8 1809.3,578.0 1809.7,578.1 1810.2,578.2 1810.7,578.2 1811.2,578.2 1811.7,578.1 1812.2,578.0 1812.7,577.8 1813.2,577.5 1813.7,577.3 1814.2,577.0 1814.7,576.7 1815.2,576.4 1815.6,576.0 1816.1,575.7 1816.6,575.3 1817.1,574.9 1817.6,574.6 1818.1,574.2 1818.6,573.9 1819.1,573.6 1819.6,573.3 1820.1,573.0 1820.6,572.8 1821.1,572.5 1821.6,572.3 1822.1,572.1 1822.6,571.9 1823.1,571.7 1823.6,571.4 1824.1,571.3 1824.6,571.1 1825.1,570.9 1825.6,570.7 1826.1,570.5 1826.6,570.3 1827.1,570.1 1827.5,569.9 1828.0,569.7 1828.5,569.5 1829.0,569.3 1829.5,569.1 1830.0,568.9 1830.5,568.6 1831.0,568.4 1831.5,568.2 1832.0,567.9 1832.5,567.7 1833.0,567.4 1833.5,567.1 1834.0,566.8 1834.5,566.5 1835.0,566.2 1835.5,565.7 1835.9,565.3 1836.4,564.7 1836.9,564.1 1837.4,563.5 1837.9,562.9 1838.3,562.3 1838.8,561.6 1839.3,561.0 1839.8,560.4 1840.2,559.8 1840.7,559.3 1841.2,558.8 1841.7,558.4 1842.2,558.1 1842.6,557.8 1843.1,557.7 1843.6,557.6 1844.1,557.6 1844.6,557.8 1845.1,557.9 1845.6,558.2 1846.0,558.5 1846.5,558.9 1847.0,559.4 1847.5,559.9 1848.0,560.4 1848.5,561.0 1849.0,562.0 1849.5,563.5 1850.0,565.5 1850.5,567.7 1851.0,570.0"/>
<polyline stroke="#f00" points="168.5,767.5 169.0,767.5 169.5,767.5 170.0,767.5 170.5,767.4 171.0,767.4 171.5,767.4 172.0,767.4 172.5,767.4 173.0,767.4 173.5,767.3 174.0,767.3 174.5,767.3 175.0,767.3 175.5,767.3 176.0,767.3 176.5,767.2 177.0,767.2 177.5,767.2 178.0,767.2 178.5,767.2 179.0,767.1 179.5,767.1 180.0,767.1 180.5,767.1 181.0,767.1 181.5,767.1 182.0,767.0 182.5,767.0 183.0,767.0 183.5,767.0 184.0,767.0 184.5,766.9 185.0,766.9 185.5,766.9 186.0,766.9 186.5,766.9 187.0,766.8 187.5,766.8 188.0,766.8 188.5,766.8 189.0,766.8 189.5,766.7 190.0,766.7 190.5,766.7 191.0,766.7 191.5,766.7 192.0,766.6 192.5,766.6 193.0,766.6 193.5,766.6 194.0,766.6 194.5,766.5 195.0,766.5 195.5,766.5 196.0,766.5 196.5,766.5 197.0,766.4 197.5,766.4 198.0,766.4 198.5,766.4 199.0,766.3 199.5,766.3 200.0,766.3 200.5,766.3 201.0,766.3 201.5,766.2 202.0,766.2 202.5,766.2 203.0,766.2 203.5,766.1 204.0,766.1 204.5,766.1 205.0,766.1 205.5,766.1 206.0,766.0 206.5,766.0 207.0,766.0 207.5,766.0 208.0,765.9 208.5,765.9 209.0,765.9 209.5,765.9 210.0,765.8 210.5,765.8 211.0,765.8 211.5,765.8 212.0,765.7 212.5,765.7 213.0,765.7 213.5,765.7 214.0,765.6 214.5,765.6 215.0,765.6 215.5,765.6 216.0,765.5 216.5,765.5 217.0,765.5 217.5,765.5 218.0,765.4 218.5,765.4 219.0,765.4 219.5,765.3 220.0,765.3 220.5,765.3 221.0,765.3 221.5,765.2 222.0,765.2 222.5,765.2 223.0,765.2 223.5,765.1 224.0,765.1 224.5,765.1 225.0,765.0 225.5,765.0 226.0,765.0 226.5,765.0 227.0,764.9 227.5,764.9 228.0,764.9 228.5,764.8 229.0,764.8 229.5,764.8 230.0,764.7 230.5,764.7 231.0,764.7 231.5,764.7 232.0,764.6 232.5,764.6 233.0,764.6 233.5,764.5 234.0,764.5 234.5,764.5 235.0,764.5 235.5,764.4 236.0,764.4 236.5,764.4 237.0,764.3 237.5,764.3 238.0,764.3 238.5,764.2 239.0,764.2 239.5,764.2 240.0,764.2 240.5,764.1 241.0,764.1 241.5,764.1 242.0,764.0 242.5,764.0 243.0,764.0 243.5,763.9 244.0,763.9 244.5,763.9 245.0,763.8 245.5,763.8 246.0,763.8 246.5,763.8 247.0,763.7 247.5,763.7 248.0,763.7 248.5,763.6 249.0,763.6 249.5,763.6 250.0,763.5 250.5,763.5 251.0,763.5 251.5,763.4 252.0,763.4 252.5,763.4 253.0,763.3 253.5,763.3 254.0,763.3 254.5,763.3 255.0,763.2 255.5,763.2 256.0,763.2 256.5,763.1 257.0,763.1 257.5,763.1 258.0,763.0 258.5,763.0 259.0,763.0 259.5,762.9 260.0,762.9 260.5,762.9 261.0,762.8 261.5,762.8 262.0,762.7 262.5,762.7 263.0,762.7 263.5,762.6 264.0,762.6 264.5,762.6 265.0,762.5 265.5,762.5 266.0,762.5 266.5,762.4 267.0,762.4 267.5,762.4 268.0,762.3 268.5,762.3 269.0,762.3 269.5,762.2 270.0,762.2 270.5,762.2 271.0,762.1 271.5,762.1 272.0,762.0 272.5,762.0 273.0,762.0 273.5,761.9 274.0,761.9 274.5,761.9 275.0,761.8 275.5,761.8 276.0,761.8 276.5,761.7 277.0,761.7 277.5,761.7 278.0,761.6 278.5,761.6 279.0,761.6 279.5,761.5 280.0,761.5 280.5,761.5 281.0,761.4 281.5,761.4 282.0,761.4 282.5,761.3 283.0,761.3 283.5,761.3 284.0,761.2 284.5,761.2 285.0,761.1 285.5,761.1 286.0,761.1 286.5,761.0 287.0,761.0 287.5,761.0 288.0,761.0 288.5,760.9 289.0,760.9 289.5,760.9 290.0,760.8 290.5,760.8 291.0,760.8 291.5,760.7 292.0,760.7 292.5,760.7 293.0,760.6 293.5,760.6 294.0,760.6 294.5,760.5 295.0,760.5 295.5,760.5 296.0,760.4 296.5,760.4 297.0,760.4 297.4,760.3 297.9,760.3 298.4,760.3 298.9,760.2 299.4,760.2 299.9,760.2 300.4,760.1 300.9,760.1 301.4,760.0 301.9,760.0 302.4,760.0 302.9,759.9 303.4,759.9 303.9,759.9 304.4,759.8 304.8,759.8 305.3,759.7 305.8,759.7 306.3,759.7 306.8,759.6 307.3,759.6 307.8,759.6 308.3,759.5 308.8,759.5 309.3,759.5 309.8,759.4 310.3,759.4 310.8,759.4 311.3,759.3 311.8,759.3 312.2,759.3 312.7,759.2 313.2,759.2 313.7,759.2 314.2,759.2 314.7,759.1 315.2,759.1 315.7,759.1 316.2,759.1 316.7,759.0 317.2,759.0 317.7,759.0 318.2,759.0 318.7,759.0 319.2,759.0 319.6,758.9 320.1,758.9 320.6,758.9 321.1,758.9 321.6,758.9 322.1,758.9 322.6,758.9 323.1,758.9 323.6,758.9 324.1,758.9 324.6,758.9 325.1,758.9 325.6,758.9 326.1,759.0 326.6,759.0 327.1,759.0 327.6,759.0 328.1,759.1 328.6,759.1 329.1,759.1 329.6,759.2 330.1,759.2 330.6,759.2 331.0,759.3 331.5,759.3 332.0,759.4 332.5,759.4 333.0,759.5 333.5,759.5 334.0,759.6 334.5,759.6 335.0,759.7 335.5,759.7 336.0,759.8 336.5,759.8 337.0,759.9 337.5,759.9 338.0,760.0 338.5,760.1 339.0,760.1 339.5,760.2 340.0,760.3 340.5,760.3 341.0,760.4 341.5,760.5 341.9,760.6 342.4,760.7 342.9,760.8 343.4,760.9 343.9,761.0 344.4,761.1 344.9,761.2 345.4,761.3 345.9,761.4 346.4,761.6 346.9,761.7 347.4,761.8 347.9,761.9 348.4,762.1 348.9,762.2 349.3,762.3 349.8,762.5 350.3,762.6 350.8,762.8 351.3,762.9 351.8,763.1 352.3,763.2 352.8,763.4 353.3,763.5 353.8,763.7 354.3,763.8 354.8,764.0 355.3,764.1 355.8,764.3 356.3,764.4 356.7,764.6 357.2,764.7 357.7,764.9 358.2,765.0 358.7,765.2 359.2,765.4 359.7,765.5 360.2,765.7 360.7,765.8 361.2,766.0 361.7,766.1 362.2,766.3 362.7,766.4 363.2,766.6 363.7,766.7 364.1,766.9 364.6,767.0 365.1,767.1 365.6,767.3 366.1,767.4 366.6,767.5 367.1,767.7 367.6,767.8 368.1,767.9 368.6,768.1 369.1,768.2 369.6,768.3 370.1,768.4 370.6,768.5 371.1,768.7 371.6,768.8 372.1,768.9 372.6,769.0 373.0,769.1 373.5,769.2 374.0,769.4 374.5,769.5 375.0,769.6 375.5,769.7 376.0,769.8 376.5,769.9 377.0,770.0 377.5,770.1 378.0,770.3 378.5,770.4 379.0,770.5 379.5,770.6 380.0,770.7 380.5,770.8 381.0,770.9 381.5,771.0 382.0,771.2 382.5,771.3 382.9,771.4 383.4,771.5 383.9,771.6 384.4,771.7 384.9,771.8 385.4,772.0 385.9,772.1 386.4,772.2 386.9,772.3 387.4,772.4 387.9,772.6 388.4,772.7 388.9,772.8 389.4,772.9 389.9,773.1 390.4,773.2 390.9,773.3 391.4,773.5 391.9,773.6 392.4,773.7 392.8,773.9 393.3,774.0 393.8,774.2 394.3,774.3 394.8,774.4 395.3,774.6 395.8,774.7 396.3,774.9 396.8,775.0 397.3,775.2 397.8,775.4 398.3,775.5 398.8,775.7 399.3,775.9 399.8,776.0 400.3,776.2 400.8,776.4 401.3,776.6 401.8,776.8 402.2,777.0 402.7,777.2 403.2,777.4 403.7,777.6 404.2,777.8 404.7,778.0 405.2,778.3 405.7,778.5 406.2,778.7 406.7,778.9 407.2,779.2 407.7,779.4 408.2,779.6 408.7,779.8 409.2,780.1 409.7,780.3 410.2,780.6 410.7,780.8 411.2,781.0 411.7,781.3 412.1,781.5 412.6,781.7 413.1,782.0 413.6,782.2 414.1,782.5 414.6,782.7 415.1,782.9 415.6,783.2 416.1,783.4 416.6,783.7 417.1,783.9 417.6,784.1 418.1,784.4 418.6,784.6 419.1,784.8 419.6,785.1 420.1,785.3 420.6,785.5 421.1,785.7 421.6,786.0 422.1,786.2 422.5,786.4 423.0,786.6 423.5,786.8 424.0,787.0 424.5,787.2 425.0,787.4 425.5,787.6 426.0,787.8 426.5,788.0 427.0,788.2 427.5,788.4 428.0,788.6 428.5,788.7 429.0,788.9 429.5,789.1 430.0,789.3 430.5,789.4 431.0,789.6 431.5,789.8 432.0,789.9 432.5,790.1 433.0,790.3 433.5,790.4 434.0,790.6 434.5,790.7 435.0,790.9 435.5,791.1 436.0,791.2 436.5,791.4 437.0,791.5 437.5,791.7 438.0,791.8 438.5,792.0 439.0,792.2 439.5,792.3 440.0,792.5 440.5,792.7 441.0,792.8 441.5,793.0 442.0,793.1 442.5,793.3 443.0,793.4 443.5,793.6 443.9,793.7 444.4,793.9 444.9,794.0 445.4,794.1 445.9,794.3 446.4,794.4 446.9,794.6 447.4,794.7 447.9,794.9 448.4,795.0 448.9,795.2 449.4,795.3 449.9,795.5 450.4,795.7 450.9,795.8 451.3,796.0 451.8,796.2 452.3,796.4 452.8,796.6 453.3,796.8 453.8,797.0 454.3,797.2 454.8,797.4 455.3,797.6 455.8,797.9 456.3,798.1 456.8,798.4 457.3,798.7 457.8,799.0 458.3,799.3 458.8,799.6 459.3,799.9 459.8,800.2 460.3,800.5 460.8,800.9 461.3,801.2 461.8,801.6 462.2,802.0 462.7,802.3 463.2,802.7 463.7,803.1 464.2,803.5 464.7,803.9 465.2,804.3 465.7,804.7 466.2,805.1 466.7,805.6 467.2,806.0 467.7,806.4 468.2,806.9 468.7,807.3 469.2,807.8 469.7,808.2 470.2,808.7 470.7,809.1 471.2,809.6 471.7,810.1 472.2,810.7 472.7,811.2 473.2,811.8 473.6,812.3 474.1,812.9 474.6,813.5 475.1,814.1 475.6,814.7 476.1,815.3 476.6,815.9 477.1,816.6 477.6,817.2 478.1,817.8 478.6,818.5 479.1,819.1 479.6,819.8 480.1,820.4 480.6,821.0 481.0,821.7 481.5,822.3 482.0,822.9 482.5,823.6 483.0,824.2 483.5,824.8 484.0,825.4 484.5,826.0 485.0,826.6 485.5,827.2 486.0,827.7 486.5,828.3 487.0,828.8 487.5,829.4 488.0,829.9 488.5,830.4 489.0,831.0 489.5,831.5 490.0,832.0 490.4,832.6 490.9,833.1 491.4,833.7 491.9,834.3 492.4,834.8 492.9,835.4 493.4,836.0 493.9,836.7 494.4,837.3 494.9,838.0 495.4,838.7 495.9,839.4 496.4,840.1 496.9,840.9 497.4,841.7 497.9,842.6 498.4,843.5 498.9,844.5 499.4,845.5 499.9,846.6 500.4,847.6 500.9,848.7 501.3,849.8 501.8,850.9 502.3,851.9 502.8,853.0 503.3,854.1 503.8,855.1 504.3,856.1 504.8,857.0 505.3,857.9 505.8,858.8 506.3,859.7 506.8,860.6 507.3,861.4 507.8,862.3 508.3,863.2 508.8,864.1 509.3,864.9 509.8,865.8 510.2,866.6 510.7,867.4 511.2,868.2 511.7,868.9 512.2,869.6 512.7,870.3 513.2,870.9 513.7,871.5 514.2,872.0 514.7,872.5 515.2,872.9 515.7,873.3 516.2,873.7 516.6,874.1 517.1,874.4 517.6,874.8 518.1,875.1 518.6,875.4 519.1,875.7 519.6,876.0 520.1,876.4 520.6,876.7 521.0,877.0 521.5,877.4 522.0,877.8 522.5,878.2 523.0,878.6 523.5,879.1 524.0,879.7 524.5,880.4 525.0,881.1 525.5,881.8 526.0,882.6 526.5,883.3 527.0,884.0 527.5,884.7 528.0,885.3 528.5,885.8 529.0,886.2 529.5,886.5 530.0,886.6 530.5,886.6 531.0,886.7 531.5,886.7 532.0,886.8 532.5,886.8 533.0,886.8 533.5,886.8 534.0,886.9 534.5,886.9 535.0,886.9 535.5,886.9 536.0,886.9 536.4,886.9 536.9,886.9 537.4,886.9 537.9,887.0 538.4,887.0 538.9,887.0 539.4,887.0 539.9,887.0 540.4,887.1 540.9,887.1 541.4,887.1 541.9,887.2 542.4,887.2 542.9,887.3 543.4,887.4 543.9,887.5 544.4,887.7 544.9,887.9 545.4,888.1 545.8,888.4 546.3,888.7 546.8,889.0 547.3,889.3 547.8,889.7 548.3,890.0 548.8,890.4 549.3,890.8 549.8,891.2 550.3,891.6 550.8,892.0 551.3,892.4 551.7,892.9 552.2,893.3 552.7,893.7 553.2,894.1 553.7,894.5 554.2,894.8 554.7,895.2 555.2,895.6 555.7,896.0 556.2,896.4 556.7,896.9 557.2,897.4 557.7,897.9 558.2,898.4 558.7,898.9 559.2,899.5 559.7,900.0 560.2,900.5 560.7,901.1 561.1,901.6 561.6,902.1 562.1,902.5 562.6,903.0 563.1,903.4 563.6,903.8 564.1,904.1 564.6,904.4 565.1,904.7 565.6,904.9 566.1,905.1 566.6,905.2 567.1,905.2 567.6,905.2 568.1,905.2 568.5,905.2 569.0,905.2 569.5,905.2 570.0,905.2 570.4,905.2 570.9,905.2 571.4,905.1 571.9,905.1 572.3,905.1 572.8,905.1 573.3,905.1 573.8,905.1 574.3,905.0 574.8,904.9 575.2,904.8 575.7,904.6 576.2,904.4 576.7,904.2 577.2,904.0 577.7,903.7 578.1,903.5 578.6,903.2 579.1,902.9 579.6,902.7 580.1,902.4 580.6,902.1 581.0,901.8 581.5,901.6 582.0,901.3 582.5,901.1 583.0,900.9 583.5,900.6 584.0,900.3 584.5,900.0 584.9,899.7 585.4,899.4 585.9,899.1 586.4,898.7 586.9,898.4 587.4,898.1 587.9,897.8 588.4,897.5 588.9,897.3 589.4,897.1 589.8,896.9 590.3,896.7 590.8,896.6 591.3,896.5 591.8,896.5 592.3,896.5 592.8,896.5 593.3,896.5 593.8,896.5 594.2,896.6 594.7,896.6 595.2,896.6 595.7,896.7 596.2,896.7 596.7,896.7 597.2,896.7 597.7,896.8 598.2,896.8 598.7,896.8 599.1,896.9 599.6,896.9 600.1,896.9 600.6,896.9 601.1,896.9 601.6,896.9 602.1,896.9 602.6,896.9 603.1,896.8 603.6,896.8 604.1,896.8 604.6,896.7 605.0,896.7 605.5,896.6 606.0,896.6 606.5,896.5 607.0,896.4 607.5,896.4 608.0,896.3 608.5,896.2 609.0,896.1 609.5,895.9 610.0,895.7 610.5,895.4 611.0,895.1 611.5,894.7 612.0,894.3 612.5,893.8 613.0,893.4 613.5,892.9 614.0,892.4 614.5,891.8 615.0,891.3 615.5,890.8 616.0,890.2 616.5,889.7 617.0,889.2 617.5,888.6 618.0,887.9 618.5,887.3 618.9,886.5 619.4,885.8 619.9,885.0 620.4,884.3 620.9,883.4 621.4,882.6 621.9,881.8 622.4,881.0 622.9,880.2 623.4,879.3 623.8,878.5 624.3,877.7 624.8,877.0 625.3,876.2 625.8,875.5 626.3,874.8 626.8,874.1 627.3,873.5 627.8,872.8 628.2,872.2 628.7,871.5 629.2,870.9 629.7,870.3 630.2,869.6 630.7,869.0 631.2,868.4 631.7,867.7 632.2,867.1 632.7,866.4 633.1,865.8 633.6,865.1 634.1,864.4 634.6,863.7 635.1,863.0 635.6,862.2 636.1,861.5 636.6,860.6 637.1,859.8 637.6,858.9 638.1,858.0 638.6,857.1 639.1,856.2 639.6,855.2 640.1,854.3 640.6,853.4 641.1,852.4 641.6,851.5 642.1,850.6 642.6,849.7 643.1,848.8 643.6,847.9 644.1,847.1 644.6,846.3 645.1,845.5 645.6,844.8 646.1,844.1 646.6,843.5 647.1,842.8 647.6,842.3 648.1,841.8 648.6,841.3 649.1,840.8 649.6,840.4 650.1,839.9 650.6,839.5 651.1,839.1 651.5,838.7 652.0,838.3 652.5,837.9 653.0,837.5 653.5,837.1 654.0,836.8 654.5,836.4 655.0,836.1 655.5,835.7 656.0,835.4 656.5,835.0 657.0,834.7 657.5,834.4 658.0,834.1 658.5,833.8 658.9,833.4 659.4,833.1 659.9,832.8 660.4,832.5 660.9,832.2 661.4,831.8 661.9,831.5 662.4,831.2 662.9,830.9 663.4,830.5 663.9,830.2 664.4,829.9 664.9,829.6 665.4,829.3 665.9,829.0 666.4,828.7 666.9,828.4 667.4,828.1 667.9,827.8 668.4,827.5 668.9,827.2 669.4,826.9 669.8,826.6 670.3,826.3 670.8,826.1 671.3,825.8 671.8,825.5 672.3,825.2 672.8,824.9 673.3,824.6 673.8,824.3 674.3,824.1 674.8,823.8 675.3,823.5 675.8,823.2 676.3,822.9 676.8,822.6 677.3,822.3 677.8,822.0 678.3,821.7 678.8,821.4 679.3,821.1 679.8,820.8 680.3,820.5 680.8,820.2 681.2,819.9 681.7,819.6 682.2,819.3 682.7,819.0 683.2,818.7 683.7,818.4 684.2,818.1 684.7,817.7 685.2,817.4 685.7,817.1 686.2,816.8 686.7,816.5 687.2,816.2 687.7,815.9 688.2,815.7 688.6,815.4 689.1,815.1 689.6,814.8 690.1,814.5 690.6,814.2 691.1,813.9 691.6,813.7 692.1,813.4 692.6,813.1 693.1,812.9 693.6,812.6 694.1,812.3 694.6,812.1 695.1,811.8 695.6,811.5 696.1,811.3 696.6,811.0 697.1,810.7 697.6,810.5 698.1,810.2 698.6,810.0 699.1,809.7 699.5,809.5 700.0,809.2 700.5,809.0 701.0,808.7 701.5,808.5 702.0,808.2 702.5,808.0 703.0,807.8 703.5,807.5 704.0,807.3 704.5,807.1 705.0,806.9 705.5,806.6 706.0,806.4 706.5,806.2 707.0,806.0 707.5,805.8 708.0,805.6 708.5,805.4 709.0,805.2 709.5,805.0 710.0,804.8 710.5,804.5 711.0,804.3 711.5,804.1 712.0,803.9 712.5,803.8 713.0,803.6 713.5,803.4 714.0,803.2 714.5,803.0 715.0,802.8 715.5,802.6 716.0,802.5 716.5,802.3 717.0,802.1 717.5,802.0 718.0,801.8 718.5,801.6 719.0,801.5 719.5,801.3 720.0,801.2 720.5,801.1 721.0,800.9 721.5,800.8 722.0,800.7 722.5,800.5 723.0,800.4 723.5,800.3 724.0,800.1 724.5,800.0 725.0,799.9 725.4,799.8 725.9,799.6 726.4,799.5 726.9,799.4 727.4,799.3 727.9,799.2 728.4,799.1 728.9,798.9 729.4,798.8 729.9,798.7 730.4,798.6 730.9,798.5 731.4,798.4 731.9,798.3 732.4,798.2 732.9,798.1 733.4,798.0 733.9,797.9 734.4,797.8 734.9,797.7 735.3,797.6 735.8,797.5 736.3,797.4 736.8,797.3 737.3,797.2 737.8,797.1 738.3,797.0 738.8,796.9 739.3,796.8 739.8,796.7 740.3,796.6 740.8,796.5 741.3,796.4 741.8,796.3 742.3,796.2 742.8,796.1 743.3,796.0 743.8,795.9 744.3,795.9 744.8,795.8 745.2,795.7 745.7,795.6 746.2,795.5 746.7,795.4 747.2,795.3 747.7,795.2 748.2,795.2 748.7,795.1 749.2,795.0 749.7,794.9 750.2,794.8 750.7,794.7 751.2,794.7 751.7,794.6 752.2,794.5 752.7,794.4 753.2,794.3 753.6,794.3 754.1,794.2 754.6,794.1 755.1,794.1 755.6,794.0 756.1,793.9 756.6,793.8 757.1,793.8 757.6,793.7 758.1,793.6 758.6,793.6 759.1,793.5 759.6,793.4 760.1,793.4 760.6,793.3 761.0,793.3 761.5,793.2 762.0,793.1 762.5,793.1 763.0,793.0 763.5,792.9 764.0,792.9 764.5,792.8 765.0,792.8 765.5,792.7 766.0,792.6 766.5,792.6 767.0,792.5 767.5,792.4 768.0,792.4 768.4,792.3 768.9,792.2 769.4,792.2 769.9,792.1 770.4,792.0 770.9,792.0 771.4,791.9 771.9,791.8 772.4,791.8 772.9,791.7 773.4,791.6 773.9,791.5 774.4,791.5 774.9,791.4 775.4,791.3 775.8,791.2 776.3,791.1 776.8,791.0 777.3,791.0 777.8,790.9 778.3,790.8 778.8,790.7 779.3,790.6 779.8,790.5 780.3,790.4 780.8,790.3 781.3,790.2 781.8,790.1 782.3,790.0 782.8,789.9 783.3,789.8 783.8,789.6 784.2,789.5 784.7,789.4 785.2,789.3 785.7,789.1 786.2,789.0 786.7,788.9 787.2,788.7 787.7,788.6 788.2,788.5 788.7,788.3 789.2,788.2 789.7,788.1 790.2,787.9 790.7,787.8 791.2,787.6 791.7,787.5 792.2,787.3 792.7,787.2 793.2,787.0 793.7,786.9 794.1,786.7 794.6,786.6 795.1,786.4 795.6,786.3 796.1,786.1 796.6,786.0 797.1,785.8 797.6,785.7 798.1,785.5 798.6,785.4 799.1,785.2 799.6,785.1 800.1,784.9 800.6,784.8 801.1,784.6 801.6,784.4 802.1,784.3 802.6,784.1 803.1,784.0 803.6,783.9 804.0,783.7 804.5,783.6 805.0,783.4 805.5,783.3 806.0,783.1 806.5,783.0 807.0,782.8 807.5,782.7 808.0,782.6 808.5,782.4 809.0,782.3 809.5,782.2 810.0,782.0 810.5,781.9 811.0,781.8 811.5,781.6 812.0,781.5 812.5,781.4 812.9,781.2 813.4,781.1 813.9,780.9 814.4,780.8 814.9,780.7 815.4,780.5 815.9,780.4 816.4,780.2 816.9,780.1 817.4,780.0 817.9,779.8 818.4,779.7 818.9,779.5 819.4,779.4 819.9,779.2 820.3,779.1 820.8,779.0 821.3,778.8 821.8,778.7 822.3,778.6 822.8,778.4 823.3,778.3 823.8,778.1 824.3,778.0 824.8,777.9 825.3,777.7 825.8,777.6 826.3,777.5 826.8,777.3 827.3,777.2 827.7,777.1 828.2,777.0 828.7,776.8 829.2,776.7 829.7,776.6 830.2,776.5 830.7,776.3 831.2,776.2 831.7,776.1 832.2,776.0 832.7,775.9 833.2,775.8 833.7,775.7 834.2,775.6 834.7,775.5 835.1,775.4 835.6,775.3 836.1,775.2 836.6,775.1 837.1,775.0 837.6,774.9 838.1,774.8 838.6,774.7 839.1,774.6 839.6,774.5 840.1,774.5 840.6,774.4 841.1,774.3 841.6,774.2 842.1,774.1 842.6,774.1 843.1,774.0 843.5,773.9 844.0,773.8 844.5,773.8 845.0,773.7 845.5,773.6 846.0,773.5 846.5,773.5 847.0,773.4 847.5,773.3 848.0,773.3 848.5,773.2 849.0,773.1 849.5,773.1 850.0,773.0 850.5,772.9 851.0,772.9 851.5,772.8 852.0,772.7 852.5,772.7 853.0,772.6 853.5,772.6 853.9,772.5 854.4,772.4 854.9,772.4 855.4,772.3 855.9,772.3 856.4,772.2 856.9,772.1 857.4,772.1 857.9,772.0 858.4,772.0 858.9,771.9 859.4,771.9 859.9,771.8 860.4,771.8 860.9,771.7 861.4,771.6 861.9,771.6 862.4,771.5 862.9,771.5 863.3,771.4 863.8,771.4 864.3,771.3 864.8,771.3 865.3,771.2 865.8,771.2 866.3,771.1 866.8,771.1 867.3,771.0 867.8,771.0 868.3,770.9 868.8,770.8 869.3,770.8 869.8,770.7 870.3,770.7 870.8,770.7 871.3,770.6 871.8,770.6 872.3,770.5 872.8,770.5 873.2,770.4 873.7,770.4 874.2,770.3 874.7,770.3 875.2,770.3 875.7,770.2 876.2,770.2 876.7,770.1 877.2,770.1 877.7,770.1 878.2,770.0 878.7,770.0 879.2,770.0 879.7,769.9 880.2,769.9 880.7,769.8 881.2,769.8 881.7,769.8 882.2,769.7 882.7,769.7 883.1,769.7 883.6,769.6 884.1,769.6 884.6,769.5 885.1,769.5 885.6,769.5 886.1,769.4 886.6,769.4 887.1,769.3 887.6,769.3 888.1,769.3 888.6,769.2 889.1,769.2 889.6,769.1 890.1,769.1 890.6,769.0 891.1,769.0 891.6,768.9 892.1,768.9 892.6,768.8 893.0,768.8 893.5,768.7 894.0,768.7 894.5,768.6 895.0,768.6 895.5,768.5 896.0,768.5 896.5,768.4 897.0,768.3 897.5,768.3 898.0,768.2 898.5,768.1 899.0,768.1 899.5,768.0 900.0,767.9 900.5,767.8 901.0,767.7 901.5,767.6 901.9,767.5 902.4,767.4 902.9,767.3 903.4,767.2 903.9,767.0 904.4,766.9 904.9,766.8 905.4,766.7 905.9,766.5 906.4,766.4 906.9,766.2 907.4,766.1 907.9,766.0 908.4,765.8 908.9,765.7 909.3,765.5 909.8,765.4 910.3,765.2 910.8,765.1 911.3,764.9 911.8,764.7 912.3,764.6 912.8,764.4 913.3,764.3 913.8,764.1 914.3,763.9 914.8,763.8 915.3,763.6 915.8,763.5 916.3,763.3 916.7,763.1 917.2,763.0 917.7,762.8 918.2,762.7 918.7,762.5 919.2,762.4 919.7,762.2 920.2,762.1 920.7,761.9 921.2,761.8 921.7,761.6 922.2,761.5 922.7,761.4 923.2,761.2 923.7,761.1 924.1,761.0 924.6,760.9 925.1,760.7 925.6,760.6 926.1,760.5 926.6,760.4 927.1,760.3 927.6,760.2 928.1,760.1 928.6,760.0 929.1,759.9 929.6,759.8 930.1,759.7 930.6,759.6 931.1,759.5 931.6,759.4 932.1,759.3 932.6,759.2 933.1,759.1 933.5,759.0 934.0,758.9 934.5,758.7 935.0,758.6 935.5,758.5 936.0,758.4 936.5,758.3 937.0,758.2 937.5,758.1 938.0,758.0 938.5,757.9 939.0,757.9 939.5,757.8 940.0,757.7 940.5,757.6 941.0,757.5 941.5,757.4 942.0,757.4 942.5,757.3 943.0,757.2 943.5,757.1 944.0,757.1 944.4,757.0 944.9,757.0 945.4,756.9 945.9,756.9 946.4,756.8 946.9,756.8 947.4,756.8 947.9,756.7 948.4,756.7 948.9,756.7 949.4,756.7 949.9,756.7 950.4,756.7 950.9,756.7 951.4,756.7 951.9,756.7 952.4,756.7 952.9,756.7 953.4,756.7 953.8,756.8 954.3,756.8 954.8,756.8 955.3,756.8 955.8,756.8 956.3,756.8 956.8,756.9 957.3,756.9 957.8,756.9 958.3,756.9 958.8,756.9 959.3,757.0 959.8,757.0 960.3,757.0 960.8,757.0 961.2,757.1 961.7,757.1 962.2,757.1 962.7,757.1 963.2,757.2 963.7,757.2 964.2,757.2 964.7,757.2 965.2,757.2 965.7,757.3 966.2,757.3 966.7,757.3 967.2,757.3 967.7,757.3 968.2,757.3 968.6,757.4 969.1,757.4 969.6,757.4 970.1,757.4 970.6,757.4 971.1,757.4 971.6,757.4 972.1,757.4 972.6,757.4 973.1,757.4 973.6,757.3 974.1,757.3 974.6,757.3 975.1,757.2 975.6,757.1 976.0,757.0 976.5,756.9 977.0,756.8 977.5,756.7 978.0,756.6 978.5,756.5 979.0,756.4 979.5,756.3 980.0,756.1 980.5,756.0 981.0,755.9 981.5,755.7 982.0,755.6 982.5,755.4 983.0,755.3 983.4,755.1 983.9,755.0 984.4,754.8 984.9,754.7 985.4,754.5 985.9,754.4 986.4,754.2 986.9,754.1 987.4,754.0 987.9,753.8 988.4,753.6 988.8,753.5 989.3,753.3 989.8,753.1 990.3,752.9 990.8,752.7 991.3,752.5 991.8,752.3 992.2,752.1 992.7,751.9 993.2,751.7 993.7,751.5 994.2,751.3 994.7,751.1 995.1,750.9 995.6,750.7 996.1,750.5 996.6,750.3 997.1,750.2 997.6,750.0 998.1,749.8 998.5,749.7 999.0,749.5 999.5,749.4 1000.0,749.3 1000.5,749.2 1001.0,749.1 1001.5,749.0 1002.0,748.9 1002.5,748.8 1003.0,748.7 1003.5,748.6 1003.9,748.5 1004.4,748.4 1004.9,748.3 1005.4,748.3 1005.9,748.2 1006.4,748.1 1006.9,748.0 1007.4,747.9 1007.9,747.9 1008.4,747.8 1008.9,747.7 1009.4,747.7 1009.9,747.6 1010.4,747.5 1010.9,747.5 1011.3,747.4 1011.8,747.3 1012.3,747.3 1012.8,747.2 1013.3,747.1 1013.8,747.1 1014.3,747.0 1014.8,746.9 1015.3,746.9 1015.8,746.8 1016.3,746.8 1016.8,746.7 1017.3,746.6 1017.8,746.6 1018.3,746.5 1018.7,746.4 1019.2,746.3 1019.7,746.3 1020.2,746.2 1020.7,746.1 1021.2,746.1 1021.7,746.0 1022.2,745.9 1022.7,745.8 1023.2,745.7 1023.7,745.7 1024.2,745.6 1024.7,745.5 1025.2,745.4 1025.7,745.3 1026.2,745.2 1026.7,745.2 1027.1,745.1 1027.6,745.0 1028.1,744.9 1028.6,744.8 1029.1,744.7 1029.6,744.7 1030.1,744.6 1030.6,744.5 1031.1,744.4 1031.6,744.3 1032.1,744.2 1032.6,744.1 1033.1,744.1 1033.6,744.0 1034.1,743.9 1034.6,743.8 1035.1,743.7 1035.6,743.6 1036.1,743.5 1036.6,743.5 1037.0,743.4 1037.5,743.3 1038.0,743.2 1038.5,743.1 1039.0,743.0 1039.5,742.9 1040.0,742.9 1040.5,742.8 1041.0,742.7 1041.5,742.6 1042.0,742.5 1042.5,742.4 1043.0,742.4 1043.5,742.3 1044.0,742.3 1044.5,742.2 1045.0,742.1 1045.5,742.1 1046.0,742.0 1046.5,742.0 1047.0,741.9 1047.5,741.8 1048.0,741.7 1048.5,741.6 1049.0,741.5 1049.5,741.4 1050.0,741.3 1050.5,741.2 1051.0,741.0 1051.5,740.7 1051.9,740.0 1052.4,739.2 1052.8,738.2 1053.3,737.2 1053.8,736.1 1054.2,735.2 1054.7,734.4 1055.1,733.9 1055.6,733.7 1056.1,733.9 1056.6,734.5 1057.1,735.3 1057.6,736.3 1058.0,737.3 1058.5,738.3 1059.0,739.2 1059.5,739.7 1060.0,740.0 1060.5,740.0 1061.0,740.1 1061.4,740.1 1061.9,740.1 1062.4,740.1 1062.9,740.2 1063.3,740.2 1063.8,740.2 1064.3,740.2 1064.8,740.2 1065.3,740.2 1065.7,740.2 1066.2,740.3 1066.7,740.3 1067.2,740.4 1067.7,740.4 1068.2,740.6 1068.7,740.7 1069.2,740.8 1069.7,741.0 1070.2,741.2 1070.7,741.4 1071.2,741.5 1071.7,741.7 1072.2,741.8 1072.7,741.9 1073.2,742.0 1073.7,742.1 1074.2,742.1 1074.7,742.1 1075.2,742.0 1075.7,742.0 1076.2,741.9 1076.7,741.8 1077.2,741.6 1077.6,741.5 1078.1,741.3 1078.6,741.2 1079.1,741.0 1079.6,740.8 1080.1,740.6 1080.6,740.4 1081.1,740.2 1081.6,740.0 1082.1,739.8 1082.6,739.6 1083.0,739.4 1083.5,739.2 1084.0,739.0 1084.5,738.9 1085.0,738.7 1085.5,738.6 1086.0,738.5 1086.5,738.4 1087.0,738.3 1087.5,738.2 1088.0,738.2 1088.5,738.1 1089.0,738.0 1089.5,737.9 1090.0,737.9 1090.5,737.8 1090.9,737.7 1091.4,737.7 1091.9,737.6 1092.4,737.6 1092.9,737.5 1093.4,737.5 1093.9,737.4 1094.4,737.4 1094.9,737.3 1095.4,737.3 1095.9,737.2 1096.4,737.2 1096.9,737.1 1097.4,737.0 1097.9,737.0 1098.4,736.9 1098.9,736.9 1099.3,736.8 1099.8,736.7 1100.3,736.7 1100.8,736.6 1101.3,736.5 1101.8,736.4 1102.3,736.3 1102.8,736.2 1103.3,736.1 1103.8,736.0 1104.3,735.9 1104.8,735.7 1105.3,735.5 1105.8,735.4 1106.3,735.1 1106.8,734.9 1107.3,734.7 1107.8,734.4 1108.3,734.1 1108.8,733.9 1109.3,733.6 1109.8,733.3 1110.2,733.0 1110.7,732.7 1111.2,732.4 1111.7,732.1 1112.2,731.8 1112.7,731.5 1113.2,731.2 1113.7,730.9 1114.2,730.7 1114.7,730.4 1115.2,730.2 1115.7,730.0 1116.2,729.8 1116.7,729.6 1117.2,729.4 1117.7,729.1 1118.2,728.9 1118.7,728.7 1119.1,728.4 1119.6,728.2 1120.1,728.0 1120.6,727.8 1121.1,727.6 1121.6,727.3 1122.1,727.1 1122.6,727.0 1123.1,726.8 1123.6,726.6 1124.1,726.5 1124.5,726.3 1125.0,726.2 1125.5,726.1 1126.0,726.0 1126.5,725.9 1127.0,725.9 1127.5,725.9 1128.0,725.9 1128.5,726.0 1129.0,726.0 1129.5,726.1 1130.0,726.2 1130.5,726.3 1131.0,726.5 1131.5,726.6 1132.0,726.8 1132.5,726.9 1133.0,727.1 1133.5,727.2 1133.9,727.4 1134.4,727.6 1134.9,727.7 1135.4,727.9 1135.9,728.0 1136.4,728.2 1136.9,728.3 1137.4,728.4 1137.9,728.5 1138.4,728.5 1138.9,728.6 1139.4,728.6 1139.9,728.6 1140.4,728.4 1140.9,728.3 1141.4,728.0 1141.9,727.8 1142.4,727.4 1142.9,727.1 1143.4,726.7 1143.8,726.4 1144.3,726.0 1144.8,725.6 1145.3,725.3 1145.8,724.9 1146.3,724.7 1146.8,724.4 1147.3,724.3 1147.8,724.1 1148.3,724.1 1148.8,724.1 1149.3,724.1 1149.8,724.1 1150.3,724.1 1150.8,724.1 1151.3,724.1 1151.8,724.1 1152.2,724.1 1152.7,724.2 1153.2,724.2 1153.7,724.2 1154.2,724.2 1154.7,724.2 1155.2,724.2 1155.7,724.2 1156.2,724.2 1156.7,724.3 1157.2,724.3 1157.7,724.3 1158.2,724.3 1158.7,724.3 1159.2,724.3 1159.6,724.4 1160.1,724.4 1160.6,724.4 1161.1,724.4 1161.6,724.4 1162.1,724.4 1162.6,724.5 1163.1,724.5 1163.6,724.5 1164.1,724.5 1164.6,724.5 1165.1,724.5 1165.6,724.5 1166.1,724.5 1166.6,724.6 1167.0,724.6 1167.5,724.6 1168.0,724.6 1168.5,724.6 1169.0,724.6 1169.5,724.6 1170.0,724.6 1170.5,724.6 1171.0,724.6 1171.5,724.6 1172.0,724.6 1172.5,724.6 1173.0,724.6 1173.5,724.5 1174.0,724.5 1174.5,724.5 1175.0,724.5 1175.5,724.4 1176.0,724.4 1176.4,724.3 1176.9,724.3 1177.4,724.3 1177.9,724.2 1178.4,724.2 1178.9,724.1 1179.4,724.1 1179.9,724.0 1180.4,724.0 1180.9,723.9 1181.4,723.9 1181.9,723.8 1182.4,723.8 1182.9,723.7 1183.4,723.7 1183.9,723.6 1184.4,723.6 1184.9,723.5 1185.4,723.4 1185.9,723.4 1186.4,723.3 1186.9,723.3 1187.3,723.2 1187.8,723.2 1188.3,723.1 1188.8,723.1 1189.3,723.0 1189.8,723.0 1190.3,723.0 1190.8,722.9 1191.3,722.9 1191.8,722.9 1192.3,722.8 1192.8,722.8 1193.3,722.8 1193.8,722.8 1194.3,722.7 1194.8,722.7 1195.3,722.7 1195.8,722.7 1196.3,722.7 1196.8,722.6 1197.3,722.6 1197.8,722.6 1198.3,722.6 1198.8,722.6 1199.2,722.6 1199.7,722.5 1200.2,722.5 1200.7,722.5 1201.2,722.5 1201.7,722.5 1202.2,722.4 1202.7,722.4 1203.2,722.4 1203.7,722.4 1204.2,722.3 1204.7,722.3 1205.2,722.3 1205.7,722.2 1206.2,722.2 1206.7,722.1 1207.2,722.0 1207.7,721.9 1208.2,721.8 1208.6,721.7 1209.1,721.6 1209.6,721.5 1210.1,721.4 1210.6,721.3 1211.1,721.2 1211.6,721.0 1212.1,720.9 1212.6,720.8 1213.1,720.7 1213.6,720.6 1214.1,720.5 1214.6,720.4 1215.1,720.3 1215.6,720.2 1216.0,720.1 1216.5,720.0 1217.0,720.0 1217.5,719.9 1218.0,719.9 1218.5,719.8 1219.0,719.8 1219.5,719.8 1220.0,719.8 1220.5,719.8 1221.0,719.8 1221.5,719.8 1222.0,719.9 1222.5,719.9 1223.0,719.9 1223.5,720.0 1224.0,720.0 1224.4,720.0 1224.9,720.1 1225.4,720.1 1225.9,720.2 1226.4,720.3 1226.9,720.3 1227.4,720.4 1227.9,720.4 1228.4,720.5 1228.9,720.6 1229.4,720.7 1229.9,720.8 1230.4,720.8 1230.9,720.9 1231.4,721.0 1231.9,721.1 1232.4,721.2 1232.8,721.3 1233.3,721.4 1233.8,721.5 1234.3,721.6 1234.8,721.7 1235.3,721.8 1235.8,721.9 1236.3,722.0 1236.8,722.1 1237.3,722.2 1237.8,722.3 1238.3,722.5 1238.8,722.6 1239.3,722.8 1239.8,723.0 1240.3,723.2 1240.8,723.4 1241.2,723.6 1241.7,723.9 1242.2,724.1 1242.7,724.4 1243.2,724.7 1243.7,724.9 1244.2,725.2 1244.7,725.5 1245.2,725.8 1245.7,726.1 1246.2,726.4 1246.7,726.7 1247.2,727.0 1247.7,727.3 1248.2,727.6 1248.6,727.8 1249.1,728.1 1249.6,728.4 1250.1,728.7 1250.6,728.9 1251.1,729.2 1251.6,729.4 1252.1,729.6 1252.6,729.8 1253.1,730.0 1253.6,730.1 1254.1,730.3 1254.6,730.4 1255.1,730.6 1255.6,730.7 1256.1,730.8 1256.5,731.0 1257.0,731.1 1257.5,731.3 1258.0,731.5 1258.5,731.7 1259.0,731.9 1259.5,732.1 1260.0,732.4 1260.5,732.7 1261.0,733.0 1261.5,733.5 1262.0,734.1 1262.5,735.0 1263.0,736.0 1263.5,737.2 1264.0,738.6 1264.4,740.1 1264.9,741.7 1265.4,743.4 1265.9,745.3 1266.4,747.3 1266.9,749.3 1267.4,751.7 1267.9,754.6 1268.3,758.1 1268.8,761.9 1269.3,766.1 1269.8,770.4 1270.2,774.7 1270.7,779.0 1271.2,783.4 1271.7,788.0 1272.2,792.8 1272.6,797.8 1273.1,803.1 1273.6,808.6 1274.0,814.2 1274.5,820.3 1275.0,826.5 1275.4,832.4 1275.9,838.7 1276.4,844.8 1276.9,850.8 1277.4,856.8 1277.9,862.7 1278.4,868.7 1278.9,874.3 1279.3,880.2 1279.8,886.3 1280.2,892.3 1280.7,898.1 1281.1,903.7 1281.6,908.9 1282.0,913.5 1282.5,917.5 1283.0,921.2 1283.5,924.6 1284.0,927.7 1284.5,930.6 1285.0,933.3 1285.5,935.8 1286.0,938.2 1286.5,940.5 1287.0,942.7 1287.4,944.9 1287.9,947.2 1288.4,949.4 1288.9,951.8 1289.4,954.3 1289.9,956.9 1290.4,959.8 1290.9,962.9 1291.4,966.2 1291.9,969.7 1292.3,973.5 1292.8,977.6 1293.3,981.9 1293.8,986.4 1294.2,991.0 1294.7,995.8 1295.2,1000.6 1295.7,1005.4 1296.1,1010.2 1296.6,1014.9 1297.1,1019.5 1297.5,1024.0 1298.0,1028.6 1298.5,1033.2 1298.9,1037.8 1299.4,1042.5 1299.8,1047.4 1300.3,1052.4 1300.8,1057.6 1301.2,1063.0 1301.7,1068.7 1302.2,1075.7 1302.7,1083.7 1303.1,1091.1 1303.6,1096.2 1304.1,1099.6 1304.6,1102.9 1305.1,1106.0 1305.6,1108.9 1306.1,1111.5 1306.5,1113.8 1307.0,1115.9 1307.5,1117.6 1308.0,1119.0 1308.5,1120.0 1309.0,1120.7 1309.5,1120.9 1310.0,1120.5 1310.4,1119.3 1310.9,1117.4 1311.4,1115.0 1311.9,1112.0 1312.3,1108.7 1312.8,1105.1 1313.3,1101.3 1313.7,1097.4 1314.2,1093.5 1314.7,1089.7 1315.2,1086.1 1315.6,1082.8 1316.1,1079.9 1316.6,1077.0 1317.1,1074.0 1317.6,1070.8 1318.1,1067.5 1318.5,1064.1 1319.0,1060.7 1319.5,1057.3 1320.0,1054.0 1320.5,1050.8 1321.0,1047.7 1321.5,1044.7 1322.0,1042.0 1322.5,1039.5 1323.0,1037.3 1323.4,1035.4 1323.9,1033.8 1324.4,1032.7 1324.9,1031.9 1325.4,1031.7 1325.9,1032.5 1326.3,1034.8 1326.8,1038.2 1327.3,1042.4 1327.8,1047.2 1328.2,1052.2 1328.7,1057.2 1329.2,1061.8 1329.6,1065.7 1330.1,1068.7 1330.6,1071.1 1331.1,1073.3 1331.5,1075.4 1332.0,1077.5 1332.5,1079.4 1333.0,1081.2 1333.4,1082.9 1333.9,1084.6 1334.4,1086.2 1334.9,1087.8 1335.4,1089.3 1335.8,1090.8 1336.3,1092.2 1336.8,1093.7 1337.3,1095.1 1337.7,1096.6 1338.2,1098.1 1338.7,1099.6 1339.2,1101.2 1339.7,1102.9 1340.2,1104.6 1340.7,1106.4 1341.2,1108.2 1341.7,1110.1 1342.2,1111.9 1342.6,1113.8 1343.1,1115.7 1343.6,1117.5 1344.1,1119.4 1344.6,1121.2 1345.1,1122.9 1345.6,1124.7 1346.1,1126.3 1346.6,1127.9 1347.1,1129.5 1347.6,1130.9 1348.1,1132.3 1348.6,1133.5 1349.0,1134.7 1349.5,1135.7 1350.0,1136.6 1350.5,1137.3 1351.0,1137.9 1351.5,1138.3 1352.0,1138.6 1352.5,1138.7 1353.0,1138.5 1353.5,1137.9 1354.0,1136.9 1354.4,1135.6 1354.9,1133.9 1355.4,1131.9 1355.9,1129.7 1356.4,1127.3 1356.9,1124.6 1357.4,1121.8 1357.9,1118.8 1358.3,1115.7 1358.8,1112.5 1359.3,1109.2 1359.8,1105.9 1360.3,1102.5 1360.8,1099.2 1361.3,1095.9 1361.8,1092.7 1362.2,1089.6 1362.7,1086.6 1363.2,1083.8 1363.7,1081.1 1364.2,1078.7 1364.7,1076.5 1365.2,1074.5 1365.7,1072.8 1366.1,1071.5 1366.6,1070.5 1367.1,1069.9 1367.6,1069.7 1368.1,1069.8 1368.6,1069.9 1369.1,1070.2 1369.5,1070.7 1370.0,1071.2 1370.5,1071.8 1371.0,1072.5 1371.5,1073.4 1372.0,1074.3 1372.4,1075.3 1372.9,1076.4 1373.4,1077.6 1373.9,1078.9 1374.4,1080.2 1374.9,1081.6 1375.4,1083.1 1375.8,1084.7 1376.3,1086.3 1376.8,1088.0 1377.3,1089.7 1377.8,1091.5 1378.3,1093.4 1378.7,1095.3 1379.2,1097.2 1379.7,1099.2 1380.2,1101.2 1380.7,1103.5 1381.1,1106.3 1381.6,1109.7 1382.1,1113.5 1382.5,1117.6 1383.0,1122.0 1383.5,1126.6 1383.9,1131.4 1384.4,1136.2 1384.9,1140.9 1385.3,1145.5 1385.8,1150.0 1386.3,1155.1 1386.8,1160.8 1387.3,1167.0 1387.8,1173.6 1388.3,1180.2 1388.8,1186.8 1389.3,1193.1 1389.8,1199.0 1390.3,1204.2 1390.8,1208.6 1391.3,1212.0 1391.8,1214.1 1392.3,1214.9 1392.8,1214.5 1393.3,1213.4 1393.7,1211.6 1394.2,1209.3 1394.7,1206.6 1395.2,1203.5 1395.7,1200.2 1396.2,1196.7 1396.6,1193.2 1397.1,1189.7 1397.6,1186.4 1398.1,1183.3 1398.6,1180.6 1399.1,1178.3 1399.5,1176.5 1400.0,1175.4 1400.5,1175.0 1401.0,1175.4 1401.5,1176.4 1402.0,1177.9 1402.4,1180.0 1402.9,1182.5 1403.4,1185.4 1403.9,1188.5 1404.4,1191.9 1404.9,1195.4 1405.4,1198.9 1405.9,1202.4 1406.3,1205.9 1406.8,1209.1 1407.3,1212.2 1407.8,1214.9 1408.3,1217.5 1408.8,1220.0 1409.3,1222.5 1409.8,1224.9 1410.3,1227.4 1410.8,1229.8 1411.3,1232.2 1411.8,1234.6 1412.3,1237.1 1412.8,1239.6 1413.3,1242.1 1413.8,1244.7 1414.3,1247.4 1414.8,1250.3 1415.3,1253.7 1415.8,1257.3 1416.3,1261.2 1416.8,1265.1 1417.3,1269.1 1417.8,1272.9 1418.3,1276.6 1418.8,1280.0 1419.3,1283.0 1419.8,1285.5 1420.3,1287.4 1420.8,1288.6 1421.3,1289.0 1421.8,1288.6 1422.3,1287.6 1422.8,1285.9 1423.2,1283.6 1423.7,1280.8 1424.2,1277.5 1424.7,1273.9 1425.2,1269.9 1425.7,1265.7 1426.1,1261.3 1426.6,1256.7 1427.1,1252.1 1427.6,1247.4 1428.1,1242.6 1428.5,1236.9 1429.0,1230.4 1429.4,1223.3 1429.9,1215.7 1430.3,1207.7 1430.8,1199.4 1431.2,1190.9 1431.7,1182.4 1432.2,1172.1 1432.7,1160.1 1433.2,1147.5 1433.6,1135.4 1434.1,1125.0 1434.6,1117.5 1435.1,1111.7 1435.6,1106.1 1436.1,1100.6 1436.6,1095.3 1437.1,1090.2 1437.6,1085.4 1438.1,1080.8 1438.6,1076.5 1439.0,1072.6 1439.5,1068.9 1440.0,1065.6 1440.5,1062.6 1441.0,1060.1 1441.5,1058.0 1442.0,1056.3 1442.5,1055.0 1443.0,1054.3 1443.5,1054.0 1444.0,1055.6 1444.5,1060.3 1444.9,1067.3 1445.4,1076.3 1445.9,1086.8 1446.4,1098.2 1446.9,1110.0 1447.4,1121.7 1447.8,1132.9 1448.3,1142.9 1448.8,1151.4 1449.3,1159.1 1449.8,1166.7 1450.3,1174.1 1450.8,1181.3 1451.3,1188.3 1451.8,1195.1 1452.3,1201.7 1452.8,1208.0 1453.3,1214.2 1453.8,1220.0 1454.3,1225.6 1454.8,1230.9 1455.2,1236.4 1455.7,1242.2 1456.2,1247.9 1456.6,1253.5 1457.1,1258.8 1457.6,1263.7 1458.0,1268.0 1458.5,1271.6 1459.0,1274.3 1459.4,1276.1 1459.9,1276.7 1460.4,1276.1 1460.9,1274.5 1461.4,1271.8 1461.9,1268.3 1462.4,1264.0 1462.9,1258.9 1463.4,1253.2 1463.9,1246.9 1464.4,1240.3 1464.9,1233.2 1465.4,1225.9 1465.9,1218.4 1466.4,1210.8 1466.9,1203.2 1467.4,1195.7 1467.9,1188.4 1468.4,1181.3 1468.9,1174.7 1469.4,1168.4 1469.9,1162.7 1470.4,1157.6 1470.9,1153.3 1471.4,1149.8 1471.9,1147.1 1472.4,1145.5 1472.9,1144.9 1473.4,1145.1 1473.9,1145.7 1474.3,1146.6 1474.8,1147.8 1475.3,1149.4 1475.8,1151.2 1476.3,1153.4 1476.8,1155.7 1477.2,1158.3 1477.7,1161.1 1478.2,1164.1 1478.7,1167.3 1479.2,1170.6 1479.7,1174.0 1480.1,1177.6 1480.6,1181.2 1481.1,1184.8 1481.6,1188.6 1482.1,1192.3 1482.6,1196.0 1483.0,1199.7 1483.5,1203.4 1484.0,1207.0 1484.5,1210.7 1484.9,1214.7 1485.4,1219.1 1485.9,1223.8 1486.3,1228.7 1486.8,1233.7 1487.3,1238.7 1487.7,1243.8 1488.2,1248.8 1488.7,1253.7 1489.1,1258.3 1489.6,1262.7 1490.1,1267.2 1490.6,1272.0 1491.1,1277.0 1491.5,1282.2 1492.0,1287.5 1492.5,1292.8 1493.0,1298.1 1493.5,1303.4 1494.0,1308.6 1494.5,1313.6 1494.9,1318.5 1495.4,1323.1 1495.9,1327.5 1496.4,1331.5 1496.9,1335.1 1497.4,1338.3 1497.9,1341.1 1498.3,1343.3 1498.8,1344.9 1499.3,1345.9 1499.8,1346.3 1500.3,1345.9 1500.8,1344.7 1501.3,1342.9 1501.8,1340.5 1502.2,1337.5 1502.7,1334.2 1503.2,1330.6 1503.7,1326.8 1504.2,1322.8 1504.7,1318.7 1505.2,1314.7 1505.7,1310.9 1506.2,1307.3 1506.7,1304.0 1507.1,1301.0 1507.6,1298.6 1508.1,1296.8 1508.6,1295.6 1509.1,1295.2 1509.6,1295.9 1510.0,1297.9 1510.5,1300.8 1510.9,1304.4 1511.4,1308.2 1511.9,1312.0 1512.3,1315.6 1512.8,1318.5 1513.2,1320.5 1513.7,1321.2 1514.2,1320.7 1514.7,1319.2 1515.2,1316.8 1515.7,1313.7 1516.2,1309.9 1516.7,1305.7 1517.2,1301.0 1517.7,1296.0 1518.2,1290.9 1518.7,1285.7 1519.2,1280.5 1519.7,1275.6 1520.2,1270.8 1520.7,1266.5 1521.2,1262.7 1521.7,1259.3 1522.2,1256.0 1522.7,1252.7 1523.1,1249.4 1523.6,1246.2 1524.1,1243.0 1524.6,1239.8 1525.1,1236.7 1525.6,1233.6 1526.0,1230.6 1526.5,1227.5 1527.0,1224.5 1527.5,1221.5 1528.0,1218.6 1528.5,1215.7 1528.9,1212.8 1529.4,1209.9 1529.9,1207.0 1530.4,1204.1 1530.8,1201.0 1531.3,1198.0 1531.8,1195.1 1532.3,1192.4 1532.7,1190.2 1533.2,1188.5 1533.7,1187.1 1534.2,1185.7 1534.7,1184.3 1535.2,1183.0 1535.7,1181.8 1536.2,1180.6 1536.7,1179.5 1537.2,1178.5 1537.6,1177.5 1538.1,1176.7 1538.6,1175.9 1539.1,1175.2 1539.6,1174.6 1540.1,1174.2 1540.6,1173.9 1541.1,1173.7 1541.6,1173.6 1542.1,1174.1 1542.6,1175.4 1543.1,1177.4 1543.6,1179.9 1544.1,1182.8 1544.6,1185.9 1545.1,1189.2 1545.6,1192.3 1546.1,1195.2 1546.6,1197.7 1547.1,1199.7 1547.6,1201.0 1548.1,1201.5 1548.6,1200.2 1549.1,1196.7 1549.6,1191.4 1550.1,1184.7 1550.6,1176.9 1551.1,1168.6 1551.6,1160.1 1552.1,1151.9 1552.6,1144.3 1553.1,1137.8 1553.6,1132.8 1554.1,1128.8 1554.6,1125.0 1555.1,1121.2 1555.5,1117.5 1556.0,1114.0 1556.5,1110.6 1557.0,1107.3 1557.5,1104.2 1558.0,1101.3 1558.5,1098.5 1559.0,1096.0 1559.5,1093.6 1559.9,1091.4 1560.4,1089.5 1560.9,1087.8 1561.4,1086.4 1561.9,1085.2 1562.3,1083.9 1562.8,1082.7 1563.3,1081.6 1563.7,1080.5 1564.2,1079.6 1564.6,1078.7 1565.1,1078.1 1565.6,1077.5 1566.0,1077.2 1566.5,1077.1 1567.0,1077.1 1567.5,1077.2 1568.0,1077.2 1568.4,1077.3 1568.9,1077.4 1569.4,1077.5 1569.9,1077.6 1570.4,1077.8 1570.9,1077.9 1571.3,1078.0 1571.8,1078.2 1572.3,1078.3 1572.8,1078.5 1573.3,1078.6 1573.8,1078.7 1574.3,1078.8 1574.7,1078.9 1575.2,1078.9 1575.7,1079.0 1576.2,1079.0 1576.7,1078.6 1577.2,1077.4 1577.6,1075.6 1578.1,1073.3 1578.6,1070.5 1579.1,1067.4 1579.5,1064.1 1580.0,1060.8 1580.5,1057.4 1581.0,1054.2 1581.4,1051.3 1581.9,1048.7 1582.4,1046.2 1582.9,1043.6 1583.4,1041.0 1583.9,1038.4 1584.4,1035.8 1584.9,1033.2 1585.3,1030.7 1585.8,1028.2 1586.3,1025.8 1586.8,1023.6 1587.3,1021.5 1587.8,1019.5 1588.3,1017.8 1588.8,1016.2 1589.3,1014.7 1589.8,1013.3 1590.3,1011.8 1590.8,1010.4 1591.3,1008.9 1591.8,1007.5 1592.3,1006.1 1592.8,1004.8 1593.3,1003.4 1593.8,1002.1 1594.3,1000.9 1594.8,999.6 1595.3,998.5 1595.7,997.3 1596.2,996.3 1596.7,995.3 1597.2,994.3 1597.7,993.4 1598.2,992.6 1598.7,991.9 1599.2,991.3 1599.7,990.7 1600.2,990.3 1600.7,989.9 1601.2,989.6 1601.7,989.5 1602.2,989.4 1602.7,989.4 1603.2,989.5 1603.7,989.6 1604.2,989.8 1604.7,989.9 1605.2,990.1 1605.7,990.3 1606.2,990.5 1606.7,990.6 1607.2,990.8 1607.7,990.9 1608.2,991.0 1608.7,991.0 1609.2,990.7 1609.7,989.9 1610.2,988.6 1610.6,986.9 1611.1,984.9 1611.6,982.6 1612.1,980.2 1612.6,977.6 1613.1,975.0 1613.6,972.4 1614.1,969.8 1614.5,967.5 1615.0,965.3 1615.5,963.5 1616.0,962.0 1616.5,960.7 1617.0,959.5 1617.5,958.4 1618.0,957.3 1618.5,956.2 1618.9,955.2 1619.4,954.2 1619.9,953.2 1620.4,952.3 1620.9,951.4 1621.4,950.5 1621.9,949.6 1622.4,948.8 1622.9,948.0 1623.3,947.2 1623.8,946.4 1624.3,945.6 1624.8,944.8 1625.3,944.0 1625.8,943.3 1626.3,942.5 1626.8,941.7 1627.3,940.9 1627.8,940.1 1628.2,939.3 1628.7,938.5 1629.2,937.7 1629.7,936.8 1630.2,935.9 1630.7,935.0 1631.2,934.0 1631.7,933.1 1632.2,932.1 1632.7,931.1 1633.2,930.0 1633.7,929.0 1634.2,928.0 1634.7,926.9 1635.2,925.9 1635.7,924.8 1636.2,923.8 1636.7,922.7 1637.2,921.7 1637.7,920.6 1638.2,919.6 1638.7,918.6 1639.2,917.6 1639.7,916.7 1640.2,915.7 1640.7,914.8 1641.2,913.9 1641.7,913.0 1642.2,912.2 1642.7,911.4 1643.2,910.6 1643.7,909.9 1644.2,909.1 1644.7,908.3 1645.1,907.5 1645.6,906.8 1646.1,906.0 1646.6,905.2 1647.1,904.4 1647.6,903.6 1648.1,902.8 1648.6,902.0 1649.0,901.2 1649.5,900.5 1650.0,899.7 1650.5,899.0 1651.0,898.3 1651.5,897.6 1652.0,897.0 1652.5,896.4 1652.9,895.8 1653.4,895.3 1653.9,894.8 1654.4,894.3 1654.9,893.9 1655.4,893.5 1655.9,893.2 1656.4,892.9 1656.8,892.7 1657.3,892.5 1657.8,892.4 1658.3,892.4 1658.8,893.6 1659.3,896.8 1659.8,901.9 1660.2,908.4 1660.7,916.1 1661.2,924.5 1661.7,933.5 1662.2,942.6 1662.7,951.6 1663.2,960.0 1663.7,967.7 1664.1,974.2 1664.6,979.3 1665.1,982.5 1665.6,983.7 1666.1,983.5 1666.6,983.0 1667.1,982.2 1667.6,981.0 1668.1,979.6 1668.6,977.9 1669.1,975.9 1669.6,973.8 1670.1,971.4 1670.6,968.8 1671.1,966.0 1671.6,963.1 1672.1,960.0 1672.6,956.9 1673.1,953.6 1673.6,950.2 1674.1,946.8 1674.6,943.3 1675.1,939.8 1675.6,936.3 1676.1,932.8 1676.6,929.3 1677.1,925.9 1677.6,922.5 1678.1,919.2 1678.6,916.1 1679.1,913.0 1679.6,910.1 1680.1,907.3 1680.6,904.7 1681.1,902.3 1681.6,900.2 1682.1,898.2 1682.6,896.5 1683.1,895.1 1683.6,893.9 1684.1,893.1 1684.6,892.6 1685.1,892.4 1685.6,892.5 1686.1,893.0 1686.5,893.7 1687.0,894.7 1687.5,896.0 1688.0,897.5 1688.5,899.4 1688.9,901.5 1689.4,903.8 1689.9,906.4 1690.4,909.3 1690.9,912.4 1691.4,915.8 1691.8,919.4 1692.3,923.3 1692.8,927.4 1693.3,931.7 1693.8,936.2 1694.2,941.0 1694.7,946.0 1695.2,951.2 1695.7,958.9 1696.2,970.6 1696.6,984.9 1697.1,1000.5 1697.6,1016.2 1698.1,1032.1 1698.5,1050.0 1699.0,1068.7 1699.4,1087.1 1699.9,1104.0 1700.4,1121.1 1700.9,1137.6 1701.4,1152.9 1701.9,1166.7 1702.4,1178.9 1702.8,1191.6 1703.3,1204.4 1703.7,1216.9 1704.2,1228.7 1704.7,1239.3 1705.1,1248.3 1705.6,1255.2 1706.0,1259.7 1706.5,1261.3 1707.0,1256.1 1707.5,1242.5 1708.0,1223.7 1708.5,1202.7 1709.0,1182.7 1709.5,1166.7 1709.9,1156.0 1710.3,1145.7 1710.8,1136.0 1711.2,1127.3 1711.6,1119.7 1712.1,1111.7 1712.6,1103.9 1713.0,1097.0 1713.5,1091.6 1714.0,1088.3 1714.5,1086.2 1715.0,1084.6 1715.5,1083.4 1716.0,1082.9 1716.5,1082.8 1717.0,1082.7 1717.5,1082.6 1718.0,1082.5 1718.5,1082.5 1719.0,1082.5 1719.5,1082.4 1720.0,1082.4 1720.4,1082.4 1720.9,1082.3 1721.4,1082.3 1721.9,1082.3 1722.4,1082.2 1722.9,1082.2 1723.4,1082.1 1723.9,1082.0 1724.4,1081.8 1724.9,1081.4 1725.4,1080.8 1725.9,1080.1 1726.3,1079.2 1726.8,1078.3 1727.3,1077.3 1727.8,1076.3 1728.3,1075.4 1728.8,1074.4 1729.3,1073.5 1729.8,1072.7 1730.2,1072.1 1730.7,1071.5 1731.2,1071.2 1731.7,1071.1 1732.2,1071.2 1732.7,1071.6 1733.2,1072.2 1733.6,1073.1 1734.1,1074.2 1734.6,1075.6 1735.1,1077.2 1735.6,1079.0 1736.0,1081.0 1736.5,1083.2 1737.0,1085.7 1737.5,1088.3 1737.9,1093.6 1738.3,1101.0 1738.7,1104.8 1739.2,1104.8 1739.6,1104.7 1740.1,1104.6 1740.6,1104.4 1741.1,1104.2 1741.5,1104.0 1742.0,1103.7 1742.5,1103.5 1743.0,1103.2 1743.4,1103.0 1743.9,1102.8 1744.4,1102.6 1744.9,1102.5 1745.3,1102.4 1745.8,1102.4 1746.3,1102.5 1746.8,1102.6 1747.3,1102.9 1747.8,1103.3 1748.3,1103.8 1748.8,1104.3 1749.3,1104.8 1749.8,1105.4 1750.3,1106.0 1750.7,1106.7 1751.2,1107.3 1751.7,1107.9 1752.2,1108.4 1752.7,1108.9 1753.2,1109.4 1753.7,1109.8 1754.2,1110.1 1754.7,1110.2 1755.2,1110.3 1755.7,1110.2 1756.2,1110.0 1756.7,1109.7 1757.2,1109.2 1757.7,1108.6 1758.2,1108.0 1758.7,1107.2 1759.2,1106.4 1759.7,1105.4 1760.2,1104.5 1760.7,1103.4 1761.2,1102.4 1761.7,1101.3 1762.2,1100.1 1762.7,1099.0 1763.2,1097.9 1763.7,1096.7 1764.2,1095.6 1764.7,1094.5 1765.2,1093.5 1765.7,1092.5 1766.2,1091.5 1766.7,1090.5 1767.2,1089.5 1767.7,1088.3 1768.2,1087.1 1768.7,1085.8 1769.2,1084.5 1769.7,1083.2 1770.2,1081.9 1770.7,1080.6 1771.1,1079.3 1771.6,1078.1 1772.1,1077.0 1772.6,1076.0 1773.1,1075.0 1773.6,1074.2 1774.1,1073.6 1774.6,1073.1 1775.1,1072.8 1775.6,1072.7 1776.1,1072.8 1776.6,1073.1 1777.0,1073.5 1777.5,1074.1 1778.0,1074.7 1778.5,1075.4 1778.9,1076.2 1779.4,1076.9 1779.9,1077.5 1780.4,1078.1 1780.8,1078.5 1781.3,1078.8 1781.8,1078.9 1782.3,1078.8 1782.8,1078.5 1783.3,1078.0 1783.8,1077.4 1784.3,1076.7 1784.8,1075.8 1785.3,1074.9 1785.8,1073.9 1786.2,1072.9 1786.7,1071.8 1787.2,1070.8 1787.7,1069.8 1788.2,1068.8 1788.7,1067.9 1789.2,1067.1 1789.7,1066.4 1790.2,1065.7 1790.7,1065.1 1791.2,1064.4 1791.7,1063.7 1792.2,1063.0 1792.7,1062.2 1793.2,1061.5 1793.7,1060.8 1794.2,1060.1 1794.7,1059.4 1795.2,1058.7 1795.7,1058.1 1796.2,1057.4 1796.7,1056.8 1797.2,1056.2 1797.7,1055.7 1798.2,1055.2 1798.7,1054.7 1799.2,1054.3 1799.7,1054.0 1800.2,1053.7 1800.7,1053.4 1801.2,1053.2 1801.7,1053.1 1802.2,1053.1 1802.7,1053.5 1803.1,1054.6 1803.6,1056.1 1804.1,1058.1 1804.6,1060.2 1805.0,1062.2 1805.5,1064.2 1806.0,1065.7 1806.4,1066.8 1806.9,1067.2 1807.4,1067.1 1807.9,1066.8 1808.4,1066.3 1808.8,1065.7 1809.3,1065.0 1809.8,1064.3 1810.3,1063.5 1810.8,1062.6 1811.3,1061.8 1811.7,1061.1 1812.2,1060.4 1812.7,1059.8 1813.2,1059.4 1813.7,1059.1 1814.2,1058.7 1814.7,1058.4 1815.2,1058.1 1815.6,1057.9 1816.1,1057.6 1816.6,1057.4 1817.1,1057.2 1817.6,1056.9 1818.1,1056.7 1818.6,1056.5 1819.0,1056.3 1819.5,1056.1 1820.0,1055.9 1820.5,1055.6 1821.0,1055.4 1821.5,1055.2 1822.0,1055.0 1822.5,1054.7 1823.0,1054.5 1823.4,1054.4 1823.9,1054.2 1824.4,1054.0 1824.9,1053.8 1825.4,1053.6 1825.9,1053.4 1826.4,1053.1 1826.8,1052.9 1827.3,1052.7 1827.8,1052.4 1828.3,1052.1 1828.8,1051.8 1829.3,1051.5 1829.7,1051.0 1830.2,1050.6 1830.7,1050.0 1831.1,1049.5 1831.6,1048.9 1832.1,1048.4 1832.5,1047.8 1833.0,1047.2 1833.5,1046.7 1833.9,1046.2 1834.4,1045.8 1834.9,1045.4 1835.4,1045.0 1835.9,1044.6 1836.4,1044.2 1836.9,1043.9 1837.4,1043.5 1837.8,1043.2 1838.3,1042.9 1838.8,1042.5 1839.3,1042.2 1839.8,1041.9 1840.3,1041.6 1840.8,1041.3 1841.3,1041.0 1841.8,1040.7 1842.2,1040.4 1842.7,1040.0 1843.2,1039.7 1843.7,1039.4 1844.1,1039.1 1844.6,1038.9 1845.1,1038.7 1845.5,1038.5 1846.0,1038.5 1846.5,1038.7 1847.0,1039.2 1847.5,1039.9 1848.0,1040.9 1848.5,1042.1 1849.0,1043.5 1849.5,1045.0 1850.0,1047.2 1850.5,1050.6 1851.0,1054.6 1851.5,1059.0"/>
</g>
<g stroke="#000" stroke-dasharray="6.4 13.54"><line x1="514.0" y1="67.2" x2="514.0" y2="1432" stroke-width="4"/><line x1="617.0" y1="69.2" x2="617.0" y2="1432" stroke-width="4"/><line x1="1311.5" y1="63.5" x2="1311.5" y2="1432" stroke-width="5" stroke-dashoffset="2.54"/><line x1="1353.0" y1="63.5" x2="1353.0" y2="1432" stroke-width="4" stroke-dashoffset="2.54"/><line x1="1422.0" y1="64.1" x2="1422.0" y2="1432" stroke-width="4"/><line x1="1463.0" y1="60.8" x2="1463.0" y2="1432" stroke-width="4" stroke-dashoffset="2.74"/><line x1="1503.0" y1="69.0" x2="1503.0" y2="1432" stroke-width="4"/><line x1="1707.0" y1="64.2" x2="1707.0" y2="1432" stroke-width="4"/></g>
</svg>
</body></html>
